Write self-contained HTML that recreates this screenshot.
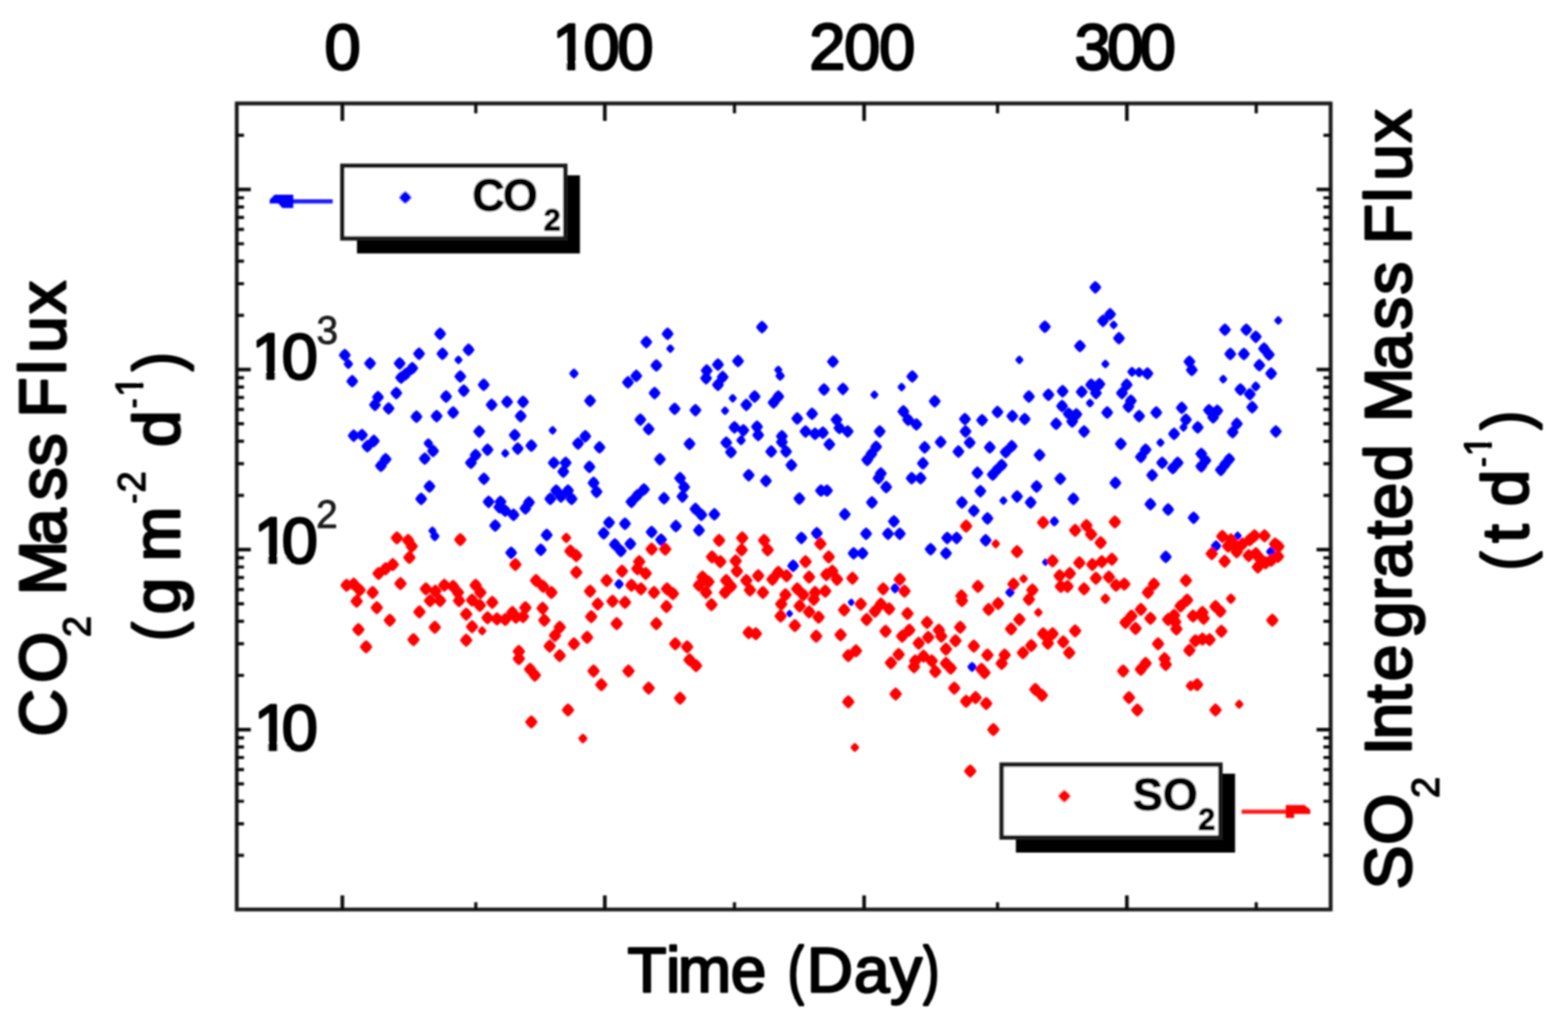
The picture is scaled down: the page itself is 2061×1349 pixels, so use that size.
<!DOCTYPE html>
<html lang="en"><head><meta charset="utf-8"><title>CO2 mass flux and SO2 integrated mass flux versus time</title>
<style>html,body{margin:0;padding:0;background:#fff}body{width:2061px;height:1349px;overflow:hidden}svg{display:block}</style>
</head><body>
<svg width="2061" height="1349" viewBox="0 0 2061 1349" font-family="'Liberation Sans', Arial, Helvetica, sans-serif">
<defs><filter id="soft" x="0" y="0" width="2061" height="1349" filterUnits="userSpaceOnUse"><feGaussianBlur stdDeviation="1.3"/></filter></defs>
<rect x="0" y="0" width="2061" height="1349" fill="#fff"/>
<g filter="url(#soft)">
<path d="M453.2 458.3l4.5 3.8l3.5 4.8l-3.5 4.8l-4.5 3.8l-4.5 -3.8l-3.5 -4.8l3.5 -4.8zM457.9 471.7l3.6 3l2.8 3.9l-2.8 3.9l-3.6 3l-3.6 -3l-2.8 -3.9l2.8 -3.9zM486.4 469.2l4.5 3.8l3.5 4.8l-3.5 4.8l-4.5 3.8l-4.5 -3.8l-3.5 -4.8l3.5 -4.8zM463.0 492.6l4.5 3.8l3.5 4.8l-3.5 4.8l-4.5 3.8l-4.5 -3.8l-3.5 -4.8l3.5 -4.8zM550.8 456.5l4.5 3.8l3.5 4.8l-3.5 4.8l-4.5 3.8l-4.5 -3.8l-3.5 -4.8l3.5 -4.8zM578.5 430.3l4.5 3.8l3.5 4.8l-3.5 4.8l-4.5 3.8l-4.5 -3.8l-3.5 -4.8l3.5 -4.8zM581.6 456.5l4.5 3.8l3.5 4.8l-3.5 4.8l-4.5 3.8l-4.5 -3.8l-3.5 -4.8l3.5 -4.8zM615.9 451.3l4.5 3.8l3.5 4.8l-3.5 4.8l-4.5 3.8l-4.5 -3.8l-3.5 -4.8l3.5 -4.8zM602.6 467.2l3.1 2.6l2.5 3.4l-2.5 3.4l-3.1 2.6l-3.1 -2.6l-2.5 -3.4l2.5 -3.4zM525.3 469.2l4.5 3.8l3.5 4.8l-3.5 4.8l-4.5 3.8l-4.5 -3.8l-3.5 -4.8l3.5 -4.8zM541.9 475.5l4.5 3.8l3.5 4.8l-3.5 4.8l-4.5 3.8l-4.5 -3.8l-3.5 -4.8l3.5 -4.8zM533.4 483.2l4.5 3.8l3.5 4.8l-3.5 4.8l-4.5 3.8l-4.5 -3.8l-3.5 -4.8l3.5 -4.8zM527.2 487.9l4.5 3.8l3.5 4.8l-3.5 4.8l-4.5 3.8l-4.5 -3.8l-3.5 -4.8l3.5 -4.8zM605.0 486.4l4.5 3.8l3.5 4.8l-3.5 4.8l-4.5 3.8l-4.5 -3.8l-3.5 -4.8l3.5 -4.8zM609.6 505.0l4.5 3.8l3.5 4.8l-3.5 4.8l-4.5 3.8l-4.5 -3.8l-3.5 -4.8l3.5 -4.8zM635.8 497.3l4.5 3.8l3.5 4.8l-3.5 4.8l-4.5 3.8l-4.5 -3.8l-3.5 -4.8l3.5 -4.8zM520.9 508.2l4.5 3.8l3.5 4.8l-3.5 4.8l-4.5 3.8l-4.5 -3.8l-3.5 -4.8l3.5 -4.8zM496.8 513.6l4.5 3.8l3.5 4.8l-3.5 4.8l-4.5 3.8l-4.5 -3.8l-3.5 -4.8l3.5 -4.8zM492.9 523.7l4.5 3.8l3.5 4.8l-3.5 4.8l-4.5 3.8l-4.5 -3.8l-3.5 -4.8l3.5 -4.8zM510.8 528.4l4.5 3.8l3.5 4.8l-3.5 4.8l-4.5 3.8l-4.5 -3.8l-3.5 -4.8l3.5 -4.8zM586.3 512.8l4.5 3.8l3.5 4.8l-3.5 4.8l-4.5 3.8l-4.5 -3.8l-3.5 -4.8l3.5 -4.8zM595.6 533.8l4.5 3.8l3.5 4.8l-3.5 4.8l-4.5 3.8l-4.5 -3.8l-3.5 -4.8l3.5 -4.8zM573.9 538.5l4.5 3.8l3.5 4.8l-3.5 4.8l-4.5 3.8l-4.5 -3.8l-3.5 -4.8l3.5 -4.8zM547.4 539.3l4.5 3.8l3.5 4.8l-3.5 4.8l-4.5 3.8l-4.5 -3.8l-3.5 -4.8l3.5 -4.8zM646.2 523.7l4.5 3.8l3.5 4.8l-3.5 4.8l-4.5 3.8l-4.5 -3.8l-3.5 -4.8l3.5 -4.8zM666.5 519.8l4.5 3.8l3.5 4.8l-3.5 4.8l-4.5 3.8l-4.5 -3.8l-3.5 -4.8l3.5 -4.8zM687.5 519.8l4.5 3.8l3.5 4.8l-3.5 4.8l-4.5 3.8l-4.5 -3.8l-3.5 -4.8l3.5 -4.8zM684.4 538.5l4.5 3.8l3.5 4.8l-3.5 4.8l-4.5 3.8l-4.5 -3.8l-3.5 -4.8l3.5 -4.8zM754.4 484.2l3.6 3l2.8 3.9l-2.8 3.9l-3.6 3l-3.6 -3l-2.8 -3.9l2.8 -3.9zM629.9 558.7l4.5 3.8l3.5 4.8l-3.5 4.8l-4.5 3.8l-4.5 -3.8l-3.5 -4.8l3.5 -4.8zM726.4 559.8l3.1 2.6l2.5 3.4l-2.5 3.4l-3.1 2.6l-3.1 -2.6l-2.5 -3.4l2.5 -3.4zM676.6 563.4l4.5 3.8l3.5 4.8l-3.5 4.8l-4.5 3.8l-4.5 -3.8l-3.5 -4.8l3.5 -4.8zM475.8 563.4l4.5 3.8l3.5 4.8l-3.5 4.8l-4.5 3.8l-4.5 -3.8l-3.5 -4.8l3.5 -4.8zM464.9 564.2l4.5 3.8l3.5 4.8l-3.5 4.8l-4.5 3.8l-4.5 -3.8l-3.5 -4.8l3.5 -4.8zM1001.6 421.5l4.5 3.8l3.5 4.8l-3.5 4.8l-4.5 3.8l-4.5 -3.8l-3.5 -4.8l3.5 -4.8zM877.5 430.3l4.5 3.8l3.5 4.8l-3.5 4.8l-4.5 3.8l-4.5 -3.8l-3.5 -4.8l3.5 -4.8zM849.5 441.2l4.5 3.8l3.5 4.8l-3.5 4.8l-4.5 3.8l-4.5 -3.8l-3.5 -4.8l3.5 -4.8zM881.1 452.4l3.1 2.6l2.5 3.4l-2.5 3.4l-3.1 2.6l-3.1 -2.6l-2.5 -3.4l2.5 -3.4zM862.7 471.9l4.5 3.8l3.5 4.8l-3.5 4.8l-4.5 3.8l-4.5 -3.8l-3.5 -4.8l3.5 -4.8zM970.1 466.1l4.5 3.8l3.5 4.8l-3.5 4.8l-4.5 3.8l-4.5 -3.8l-3.5 -4.8l3.5 -4.8zM943.7 470.8l4.5 3.8l3.5 4.8l-3.5 4.8l-4.5 3.8l-4.5 -3.8l-3.5 -4.8l3.5 -4.8zM928.9 478.6l4.5 3.8l3.5 4.8l-3.5 4.8l-4.5 3.8l-4.5 -3.8l-3.5 -4.8l3.5 -4.8zM928.1 488.7l4.5 3.8l3.5 4.8l-3.5 4.8l-4.5 3.8l-4.5 -3.8l-3.5 -4.8l3.5 -4.8zM949.9 487.1l4.5 3.8l3.5 4.8l-3.5 4.8l-4.5 3.8l-4.5 -3.8l-3.5 -4.8l3.5 -4.8zM943.7 497.3l4.5 3.8l3.5 4.8l-3.5 4.8l-4.5 3.8l-4.5 -3.8l-3.5 -4.8l3.5 -4.8zM1023.0 480.4l3.1 2.6l2.5 3.4l-2.5 3.4l-3.1 2.6l-3.1 -2.6l-2.5 -3.4l2.5 -3.4zM1025.4 487.3l3.6 3l2.8 3.9l-2.8 3.9l-3.6 3l-3.6 -3l-2.8 -3.9l2.8 -3.9zM836.3 485.6l4.5 3.8l3.5 4.8l-3.5 4.8l-4.5 3.8l-4.5 -3.8l-3.5 -4.8l3.5 -4.8zM825.4 494.1l4.5 3.8l3.5 4.8l-3.5 4.8l-4.5 3.8l-4.5 -3.8l-3.5 -4.8l3.5 -4.8zM860.4 508.2l4.5 3.8l3.5 4.8l-3.5 4.8l-4.5 3.8l-4.5 -3.8l-3.5 -4.8l3.5 -4.8zM775.6 518.3l4.5 3.8l3.5 4.8l-3.5 4.8l-4.5 3.8l-4.5 -3.8l-3.5 -4.8l3.5 -4.8zM886.8 528.9l4.5 3.8l3.5 4.8l-3.5 4.8l-4.5 3.8l-4.5 -3.8l-3.5 -4.8l3.5 -4.8zM914.1 530.7l4.5 3.8l3.5 4.8l-3.5 4.8l-4.5 3.8l-4.5 -3.8l-3.5 -4.8l3.5 -4.8zM963.1 517.7l3.1 2.6l2.5 3.4l-2.5 3.4l-3.1 2.6l-3.1 -2.6l-2.5 -3.4l2.5 -3.4zM953.0 534.1l3.1 2.6l2.5 3.4l-2.5 3.4l-3.1 2.6l-3.1 -2.6l-2.5 -3.4l2.5 -3.4zM991.9 512.8l4.5 3.8l3.5 4.8l-3.5 4.8l-4.5 3.8l-4.5 -3.8l-3.5 -4.8l3.5 -4.8zM981.0 523.7l4.5 3.8l3.5 4.8l-3.5 4.8l-4.5 3.8l-4.5 -3.8l-3.5 -4.8l3.5 -4.8zM1023.0 512.8l4.5 3.8l3.5 4.8l-3.5 4.8l-4.5 3.8l-4.5 -3.8l-3.5 -4.8l3.5 -4.8zM1016.8 520.6l4.5 3.8l3.5 4.8l-3.5 4.8l-4.5 3.8l-4.5 -3.8l-3.5 -4.8l3.5 -4.8zM1067.4 535.4l4.5 3.8l3.5 4.8l-3.5 4.8l-4.5 3.8l-4.5 -3.8l-3.5 -4.8l3.5 -4.8zM1047.9 541.6l4.5 3.8l3.5 4.8l-3.5 4.8l-4.5 3.8l-4.5 -3.8l-3.5 -4.8l3.5 -4.8zM841.7 543.2l4.5 3.8l3.5 4.8l-3.5 4.8l-4.5 3.8l-4.5 -3.8l-3.5 -4.8l3.5 -4.8zM852.6 555.6l4.5 3.8l3.5 4.8l-3.5 4.8l-4.5 3.8l-4.5 -3.8l-3.5 -4.8l3.5 -4.8zM965.4 553.3l4.5 3.8l3.5 4.8l-3.5 4.8l-4.5 3.8l-4.5 -3.8l-3.5 -4.8l3.5 -4.8zM977.1 557.2l4.5 3.8l3.5 4.8l-3.5 4.8l-4.5 3.8l-4.5 -3.8l-3.5 -4.8l3.5 -4.8zM995.0 552.5l4.5 3.8l3.5 4.8l-3.5 4.8l-4.5 3.8l-4.5 -3.8l-3.5 -4.8l3.5 -4.8zM996.6 563.4l4.5 3.8l3.5 4.8l-3.5 4.8l-4.5 3.8l-4.5 -3.8l-3.5 -4.8l3.5 -4.8zM1058.8 558.7l4.5 3.8l3.5 4.8l-3.5 4.8l-4.5 3.8l-4.5 -3.8l-3.5 -4.8l3.5 -4.8zM1071.3 561.8l4.5 3.8l3.5 4.8l-3.5 4.8l-4.5 3.8l-4.5 -3.8l-3.5 -4.8l3.5 -4.8zM769.3 565.0l4.5 3.8l3.5 4.8l-3.5 4.8l-4.5 3.8l-4.5 -3.8l-3.5 -4.8l3.5 -4.8zM1027.7 565.0l4.5 3.8l3.5 4.8l-3.5 4.8l-4.5 3.8l-4.5 -3.8l-3.5 -4.8l3.5 -4.8zM1373.4 421.0l4.5 3.8l3.5 4.8l-3.5 4.8l-4.5 3.8l-4.5 -3.8l-3.5 -4.8l3.5 -4.8zM1094.8 466.9l4.5 3.8l3.5 4.8l-3.5 4.8l-4.5 3.8l-4.5 -3.8l-3.5 -4.8l3.5 -4.8zM1339.9 467.2l3.1 2.6l2.5 3.4l-2.5 3.4l-3.1 2.6l-3.1 -2.6l-2.5 -3.4l2.5 -3.4zM1199.1 486.4l4.5 3.8l3.5 4.8l-3.5 4.8l-4.5 3.8l-4.5 -3.8l-3.5 -4.8l3.5 -4.8zM1185.1 502.9l3.1 2.6l2.5 3.4l-2.5 3.4l-3.1 2.6l-3.1 -2.6l-2.5 -3.4l2.5 -3.4zM1083.1 503.5l4.5 3.8l3.5 4.8l-3.5 4.8l-4.5 3.8l-4.5 -3.8l-3.5 -4.8l3.5 -4.8zM1108.0 502.7l4.5 3.8l3.5 4.8l-3.5 4.8l-4.5 3.8l-4.5 -3.8l-3.5 -4.8l3.5 -4.8zM1149.3 513.1l3.1 2.6l2.5 3.4l-2.5 3.4l-3.1 2.6l-3.1 -2.6l-2.5 -3.4l2.5 -3.4zM1228.6 519.0l4.5 3.8l3.5 4.8l-3.5 4.8l-4.5 3.8l-4.5 -3.8l-3.5 -4.8l3.5 -4.8zM1352.4 512.8l4.5 3.8l3.5 4.8l-3.5 4.8l-4.5 3.8l-4.5 -3.8l-3.5 -4.8l3.5 -4.8zM1378.1 510.5l4.5 3.8l3.5 4.8l-3.5 4.8l-4.5 3.8l-4.5 -3.8l-3.5 -4.8l3.5 -4.8zM1396.7 505.8l4.5 3.8l3.5 4.8l-3.5 4.8l-4.5 3.8l-4.5 -3.8l-3.5 -4.8l3.5 -4.8zM1396.0 525.3l4.5 3.8l3.5 4.8l-3.5 4.8l-4.5 3.8l-4.5 -3.8l-3.5 -4.8l3.5 -4.8zM1311.1 533.1l4.5 3.8l3.5 4.8l-3.5 4.8l-4.5 3.8l-4.5 -3.8l-3.5 -4.8l3.5 -4.8zM1187.4 532.3l4.5 3.8l3.5 4.8l-3.5 4.8l-4.5 3.8l-4.5 -3.8l-3.5 -4.8l3.5 -4.8zM1193.6 543.2l4.5 3.8l3.5 4.8l-3.5 4.8l-4.5 3.8l-4.5 -3.8l-3.5 -4.8l3.5 -4.8zM1204.5 549.4l4.5 3.8l3.5 4.8l-3.5 4.8l-4.5 3.8l-4.5 -3.8l-3.5 -4.8l3.5 -4.8zM1268.3 542.4l4.5 3.8l3.5 4.8l-3.5 4.8l-4.5 3.8l-4.5 -3.8l-3.5 -4.8l3.5 -4.8zM1269.1 558.7l4.5 3.8l3.5 4.8l-3.5 4.8l-4.5 3.8l-4.5 -3.8l-3.5 -4.8l3.5 -4.8zM1290.9 543.9l4.5 3.8l3.5 4.8l-3.5 4.8l-4.5 3.8l-4.5 -3.8l-3.5 -4.8l3.5 -4.8zM1330.6 538.5l4.5 3.8l3.5 4.8l-3.5 4.8l-4.5 3.8l-4.5 -3.8l-3.5 -4.8l3.5 -4.8zM1346.9 542.4l4.5 3.8l3.5 4.8l-3.5 4.8l-4.5 3.8l-4.5 -3.8l-3.5 -4.8l3.5 -4.8zM1099.5 543.2l4.5 3.8l3.5 4.8l-3.5 4.8l-4.5 3.8l-4.5 -3.8l-3.5 -4.8l3.5 -4.8zM1103.3 554.1l4.5 3.8l3.5 4.8l-3.5 4.8l-4.5 3.8l-4.5 -3.8l-3.5 -4.8l3.5 -4.8zM1114.2 558.7l4.5 3.8l3.5 4.8l-3.5 4.8l-4.5 3.8l-4.5 -3.8l-3.5 -4.8l3.5 -4.8zM1156.3 558.7l4.5 3.8l3.5 4.8l-3.5 4.8l-4.5 3.8l-4.5 -3.8l-3.5 -4.8l3.5 -4.8zM1388.2 548.6l4.5 3.8l3.5 4.8l-3.5 4.8l-4.5 3.8l-4.5 -3.8l-3.5 -4.8l3.5 -4.8zM1081.6 560.3l4.5 3.8l3.5 4.8l-3.5 4.8l-4.5 3.8l-4.5 -3.8l-3.5 -4.8l3.5 -4.8zM1439.7 369.2l4.5 3.8l3.5 4.8l-3.5 4.8l-4.5 3.8l-4.5 -3.8l-3.5 -4.8l3.5 -4.8zM1459.1 404.6l4.5 3.8l3.5 4.8l-3.5 4.8l-4.5 3.8l-4.5 -3.8l-3.5 -4.8l3.5 -4.8zM1449.8 413.2l4.5 3.8l3.5 4.8l-3.5 4.8l-4.5 3.8l-4.5 -3.8l-3.5 -4.8l3.5 -4.8zM1463.8 421.2l3.1 2.6l2.5 3.4l-2.5 3.4l-3.1 2.6l-3.1 -2.6l-2.5 -3.4l2.5 -3.4zM1470.8 436.1l4.5 3.8l3.5 4.8l-3.5 4.8l-4.5 3.8l-4.5 -3.8l-3.5 -4.8l3.5 -4.8zM1419.5 446.4l4.5 3.8l3.5 4.8l-3.5 4.8l-4.5 3.8l-4.5 -3.8l-3.5 -4.8l3.5 -4.8zM1452.9 472.6l3.1 2.6l2.5 3.4l-2.5 3.4l-3.1 2.6l-3.1 -2.6l-2.5 -3.4l2.5 -3.4zM1680.2 415.3l3.1 2.6l2.5 3.4l-2.5 3.4l-3.1 2.6l-3.1 -2.6l-2.5 -3.4l2.5 -3.4zM1610.1 424.9l4.5 3.8l3.5 4.8l-3.5 4.8l-4.5 3.8l-4.5 -3.8l-3.5 -4.8l3.5 -4.8zM1638.1 424.9l4.5 3.8l3.5 4.8l-3.5 4.8l-4.5 3.8l-4.5 -3.8l-3.5 -4.8l3.5 -4.8zM1650.6 434.2l4.5 3.8l3.5 4.8l-3.5 4.8l-4.5 3.8l-4.5 -3.8l-3.5 -4.8l3.5 -4.8zM1661.5 449.8l4.5 3.8l3.5 4.8l-3.5 4.8l-4.5 3.8l-4.5 -3.8l-3.5 -4.8l3.5 -4.8zM1667.7 457.6l4.5 3.8l3.5 4.8l-3.5 4.8l-4.5 3.8l-4.5 -3.8l-3.5 -4.8l3.5 -4.8zM1617.1 456.8l4.5 3.8l3.5 4.8l-3.5 4.8l-4.5 3.8l-4.5 -3.8l-3.5 -4.8l3.5 -4.8zM1635.0 456.8l4.5 3.8l3.5 4.8l-3.5 4.8l-4.5 3.8l-4.5 -3.8l-3.5 -4.8l3.5 -4.8zM1563.4 466.9l4.5 3.8l3.5 4.8l-3.5 4.8l-4.5 3.8l-4.5 -3.8l-3.5 -4.8l3.5 -4.8zM1566.5 477.8l4.5 3.8l3.5 4.8l-3.5 4.8l-4.5 3.8l-4.5 -3.8l-3.5 -4.8l3.5 -4.8zM1655.3 471.6l4.5 3.8l3.5 4.8l-3.5 4.8l-4.5 3.8l-4.5 -3.8l-3.5 -4.8l3.5 -4.8zM1670.8 482.5l4.5 3.8l3.5 4.8l-3.5 4.8l-4.5 3.8l-4.5 -3.8l-3.5 -4.8l3.5 -4.8zM1607.8 492.5l3.1 2.6l2.5 3.4l-2.5 3.4l-3.1 2.6l-3.1 -2.6l-2.5 -3.4l2.5 -3.4zM1487.9 481.9l3.6 3l2.8 3.9l-2.8 3.9l-3.6 3l-3.6 -3l-2.8 -3.9l2.8 -3.9zM1497.3 482.6l3.6 3l2.8 3.9l-2.8 3.9l-3.6 3l-3.6 -3l-2.8 -3.9l2.8 -3.9zM1508.2 482.5l4.5 3.8l3.5 4.8l-3.5 4.8l-4.5 3.8l-4.5 -3.8l-3.5 -4.8l3.5 -4.8zM1480.9 497.3l4.5 3.8l3.5 4.8l-3.5 4.8l-4.5 3.8l-4.5 -3.8l-3.5 -4.8l3.5 -4.8zM1474.7 508.2l4.5 3.8l3.5 4.8l-3.5 4.8l-4.5 3.8l-4.5 -3.8l-3.5 -4.8l3.5 -4.8zM1486.4 518.3l4.5 3.8l3.5 4.8l-3.5 4.8l-4.5 3.8l-4.5 -3.8l-3.5 -4.8l3.5 -4.8zM1483.3 526.0l4.5 3.8l3.5 4.8l-3.5 4.8l-4.5 3.8l-4.5 -3.8l-3.5 -4.8l3.5 -4.8zM1434.2 497.3l4.5 3.8l3.5 4.8l-3.5 4.8l-4.5 3.8l-4.5 -3.8l-3.5 -4.8l3.5 -4.8zM1445.1 496.5l4.5 3.8l3.5 4.8l-3.5 4.8l-4.5 3.8l-4.5 -3.8l-3.5 -4.8l3.5 -4.8zM1440.5 508.2l4.5 3.8l3.5 4.8l-3.5 4.8l-4.5 3.8l-4.5 -3.8l-3.5 -4.8l3.5 -4.8zM1421.8 506.6l4.5 3.8l3.5 4.8l-3.5 4.8l-4.5 3.8l-4.5 -3.8l-3.5 -4.8l3.5 -4.8zM1432.7 524.0l3.1 2.6l2.5 3.4l-2.5 3.4l-3.1 2.6l-3.1 -2.6l-2.5 -3.4l2.5 -3.4zM1455.3 533.8l4.5 3.8l3.5 4.8l-3.5 4.8l-4.5 3.8l-4.5 -3.8l-3.5 -4.8l3.5 -4.8zM1497.3 538.5l4.5 3.8l3.5 4.8l-3.5 4.8l-4.5 3.8l-4.5 -3.8l-3.5 -4.8l3.5 -4.8zM1519.8 533.8l4.5 3.8l3.5 4.8l-3.5 4.8l-4.5 3.8l-4.5 -3.8l-3.5 -4.8l3.5 -4.8zM1553.3 527.6l4.5 3.8l3.5 4.8l-3.5 4.8l-4.5 3.8l-4.5 -3.8l-3.5 -4.8l3.5 -4.8zM1558.8 543.2l4.5 3.8l3.5 4.8l-3.5 4.8l-4.5 3.8l-4.5 -3.8l-3.5 -4.8l3.5 -4.8zM1574.3 553.3l4.5 3.8l3.5 4.8l-3.5 4.8l-4.5 3.8l-4.5 -3.8l-3.5 -4.8l3.5 -4.8zM1555.6 555.9l3.1 2.6l2.5 3.4l-2.5 3.4l-3.1 2.6l-3.1 -2.6l-2.5 -3.4l2.5 -3.4zM1589.1 530.7l4.5 3.8l3.5 4.8l-3.5 4.8l-4.5 3.8l-4.5 -3.8l-3.5 -4.8l3.5 -4.8zM1600.0 531.5l4.5 3.8l3.5 4.8l-3.5 4.8l-4.5 3.8l-4.5 -3.8l-3.5 -4.8l3.5 -4.8zM1594.6 540.1l4.5 3.8l3.5 4.8l-3.5 4.8l-4.5 3.8l-4.5 -3.8l-3.5 -4.8l3.5 -4.8zM1630.4 503.5l4.5 3.8l3.5 4.8l-3.5 4.8l-4.5 3.8l-4.5 -3.8l-3.5 -4.8l3.5 -4.8zM1650.6 501.3l3.6 3l2.8 3.9l-2.8 3.9l-3.6 3l-3.6 -3l-2.8 -3.9l2.8 -3.9zM1642.8 509.7l4.5 3.8l3.5 4.8l-3.5 4.8l-4.5 3.8l-4.5 -3.8l-3.5 -4.8l3.5 -4.8zM1645.9 526.8l4.5 3.8l3.5 4.8l-3.5 4.8l-4.5 3.8l-4.5 -3.8l-3.5 -4.8l3.5 -4.8zM1625.7 548.6l4.5 3.8l3.5 4.8l-3.5 4.8l-4.5 3.8l-4.5 -3.8l-3.5 -4.8l3.5 -4.8zM1620.2 559.5l4.5 3.8l3.5 4.8l-3.5 4.8l-4.5 3.8l-4.5 -3.8l-3.5 -4.8l3.5 -4.8zM1677.0 558.7l4.5 3.8l3.5 4.8l-3.5 4.8l-4.5 3.8l-4.5 -3.8l-3.5 -4.8l3.5 -4.8zM1404.7 535.4l4.5 3.8l3.5 4.8l-3.5 4.8l-4.5 3.8l-4.5 -3.8l-3.5 -4.8l3.5 -4.8zM1414.8 536.2l4.5 3.8l3.5 4.8l-3.5 4.8l-4.5 3.8l-4.5 -3.8l-3.5 -4.8l3.5 -4.8zM1409.3 545.5l4.5 3.8l3.5 4.8l-3.5 4.8l-4.5 3.8l-4.5 -3.8l-3.5 -4.8l3.5 -4.8zM1424.9 558.7l4.5 3.8l3.5 4.8l-3.5 4.8l-4.5 3.8l-4.5 -3.8l-3.5 -4.8l3.5 -4.8zM1543.2 561.8l4.5 3.8l3.5 4.8l-3.5 4.8l-4.5 3.8l-4.5 -3.8l-3.5 -4.8l3.5 -4.8zM491.4 571.1l4.5 3.8l3.5 4.8l-3.5 4.8l-4.5 3.8l-4.5 -3.8l-3.5 -4.8l3.5 -4.8zM482.8 578.1l4.5 3.8l3.5 4.8l-3.5 4.8l-4.5 3.8l-4.5 -3.8l-3.5 -4.8l3.5 -4.8zM563.0 575.9l3.6 3l2.8 3.9l-2.8 3.9l-3.6 3l-3.6 -3l-2.8 -3.9l2.8 -3.9zM569.2 584.3l4.5 3.8l3.5 4.8l-3.5 4.8l-4.5 3.8l-4.5 -3.8l-3.5 -4.8l3.5 -4.8zM558.3 594.4l4.5 3.8l3.5 4.8l-3.5 4.8l-4.5 3.8l-4.5 -3.8l-3.5 -4.8l3.5 -4.8zM506.9 595.2l4.5 3.8l3.5 4.8l-3.5 4.8l-4.5 3.8l-4.5 -3.8l-3.5 -4.8l3.5 -4.8zM500.7 603.8l4.5 3.8l3.5 4.8l-3.5 4.8l-4.5 3.8l-4.5 -3.8l-3.5 -4.8l3.5 -4.8zM640.8 582.7l4.5 3.8l3.5 4.8l-3.5 4.8l-4.5 3.8l-4.5 -3.8l-3.5 -4.8l3.5 -4.8zM625.2 589.7l4.5 3.8l3.5 4.8l-3.5 4.8l-4.5 3.8l-4.5 -3.8l-3.5 -4.8l3.5 -4.8zM619.0 599.9l4.5 3.8l3.5 4.8l-3.5 4.8l-4.5 3.8l-4.5 -3.8l-3.5 -4.8l3.5 -4.8zM664.1 590.0l3.1 2.6l2.5 3.4l-2.5 3.4l-3.1 2.6l-3.1 -2.6l-2.5 -3.4l2.5 -3.4zM680.5 581.2l4.5 3.8l3.5 4.8l-3.5 4.8l-4.5 3.8l-4.5 -3.8l-3.5 -4.8l3.5 -4.8zM698.4 577.3l4.5 3.8l3.5 4.8l-3.5 4.8l-4.5 3.8l-4.5 -3.8l-3.5 -4.8l3.5 -4.8zM759.8 574.5l4.5 3.8l3.5 4.8l-3.5 4.8l-4.5 3.8l-4.5 -3.8l-3.5 -4.8l3.5 -4.8zM727.9 599.9l4.5 3.8l3.5 4.8l-3.5 4.8l-4.5 3.8l-4.5 -3.8l-3.5 -4.8l3.5 -4.8zM743.5 599.9l4.5 3.8l3.5 4.8l-3.5 4.8l-4.5 3.8l-4.5 -3.8l-3.5 -4.8l3.5 -4.8zM740.4 611.5l4.5 3.8l3.5 4.8l-3.5 4.8l-4.5 3.8l-4.5 -3.8l-3.5 -4.8l3.5 -4.8zM636.1 620.9l4.5 3.8l3.5 4.8l-3.5 4.8l-4.5 3.8l-4.5 -3.8l-3.5 -4.8l3.5 -4.8zM564.5 631.0l4.5 3.8l3.5 4.8l-3.5 4.8l-4.5 3.8l-4.5 -3.8l-3.5 -4.8l3.5 -4.8zM553.6 647.3l4.5 3.8l3.5 4.8l-3.5 4.8l-4.5 3.8l-4.5 -3.8l-3.5 -4.8l3.5 -4.8zM731.1 636.4l4.5 3.8l3.5 4.8l-3.5 4.8l-4.5 3.8l-4.5 -3.8l-3.5 -4.8l3.5 -4.8zM746.6 636.4l4.5 3.8l3.5 4.8l-3.5 4.8l-4.5 3.8l-4.5 -3.8l-3.5 -4.8l3.5 -4.8zM723.3 647.3l4.5 3.8l3.5 4.8l-3.5 4.8l-4.5 3.8l-4.5 -3.8l-3.5 -4.8l3.5 -4.8zM751.3 647.3l4.5 3.8l3.5 4.8l-3.5 4.8l-4.5 3.8l-4.5 -3.8l-3.5 -4.8l3.5 -4.8zM737.3 644.2l4.5 3.8l3.5 4.8l-3.5 4.8l-4.5 3.8l-4.5 -3.8l-3.5 -4.8l3.5 -4.8zM642.3 651.2l4.5 3.8l3.5 4.8l-3.5 4.8l-4.5 3.8l-4.5 -3.8l-3.5 -4.8l3.5 -4.8zM657.9 651.2l4.5 3.8l3.5 4.8l-3.5 4.8l-4.5 3.8l-4.5 -3.8l-3.5 -4.8l3.5 -4.8zM656.3 658.2l4.5 3.8l3.5 4.8l-3.5 4.8l-4.5 3.8l-4.5 -3.8l-3.5 -4.8l3.5 -4.8zM664.1 662.9l4.5 3.8l3.5 4.8l-3.5 4.8l-4.5 3.8l-4.5 -3.8l-3.5 -4.8l3.5 -4.8zM675.0 668.3l4.5 3.8l3.5 4.8l-3.5 4.8l-4.5 3.8l-4.5 -3.8l-3.5 -4.8l3.5 -4.8zM695.3 652.0l4.5 3.8l3.5 4.8l-3.5 4.8l-4.5 3.8l-4.5 -3.8l-3.5 -4.8l3.5 -4.8zM690.6 659.8l4.5 3.8l3.5 4.8l-3.5 4.8l-4.5 3.8l-4.5 -3.8l-3.5 -4.8l3.5 -4.8zM650.9 682.4l4.5 3.8l3.5 4.8l-3.5 4.8l-4.5 3.8l-4.5 -3.8l-3.5 -4.8l3.5 -4.8zM568.4 691.9l3.1 2.6l2.5 3.4l-2.5 3.4l-3.1 2.6l-3.1 -2.6l-2.5 -3.4l2.5 -3.4zM571.5 698.1l3.6 3l2.8 3.9l-2.8 3.9l-3.6 3l-3.6 -3l-2.8 -3.9l2.8 -3.9zM718.6 694.8l4.5 3.8l3.5 4.8l-3.5 4.8l-4.5 3.8l-4.5 -3.8l-3.5 -4.8l3.5 -4.8zM710.8 714.3l4.5 3.8l3.5 4.8l-3.5 4.8l-4.5 3.8l-4.5 -3.8l-3.5 -4.8l3.5 -4.8zM671.9 718.2l4.5 3.8l3.5 4.8l-3.5 4.8l-4.5 3.8l-4.5 -3.8l-3.5 -4.8l3.5 -4.8zM788.0 579.6l4.5 3.8l3.5 4.8l-3.5 4.8l-4.5 3.8l-4.5 -3.8l-3.5 -4.8l3.5 -4.8zM906.3 575.0l4.5 3.8l3.5 4.8l-3.5 4.8l-4.5 3.8l-4.5 -3.8l-3.5 -4.8l3.5 -4.8zM954.6 573.4l4.5 3.8l3.5 4.8l-3.5 4.8l-4.5 3.8l-4.5 -3.8l-3.5 -4.8l3.5 -4.8zM960.8 585.9l4.5 3.8l3.5 4.8l-3.5 4.8l-4.5 3.8l-4.5 -3.8l-3.5 -4.8l3.5 -4.8zM974.0 572.0l3.6 3l2.8 3.9l-2.8 3.9l-3.6 3l-3.6 -3l-2.8 -3.9l2.8 -3.9zM1027.7 572.6l4.5 3.8l3.5 4.8l-3.5 4.8l-4.5 3.8l-4.5 -3.8l-3.5 -4.8l3.5 -4.8zM1013.7 585.1l4.5 3.8l3.5 4.8l-3.5 4.8l-4.5 3.8l-4.5 -3.8l-3.5 -4.8l3.5 -4.8zM1033.2 585.1l4.5 3.8l3.5 4.8l-3.5 4.8l-4.5 3.8l-4.5 -3.8l-3.5 -4.8l3.5 -4.8zM1040.2 603.0l4.5 3.8l3.5 4.8l-3.5 4.8l-4.5 3.8l-4.5 -3.8l-3.5 -4.8l3.5 -4.8zM867.4 595.2l4.5 3.8l3.5 4.8l-3.5 4.8l-4.5 3.8l-4.5 -3.8l-3.5 -4.8l3.5 -4.8zM774.8 605.3l4.5 3.8l3.5 4.8l-3.5 4.8l-4.5 3.8l-4.5 -3.8l-3.5 -4.8l3.5 -4.8zM780.2 626.3l4.5 3.8l3.5 4.8l-3.5 4.8l-4.5 3.8l-4.5 -3.8l-3.5 -4.8l3.5 -4.8zM784.1 638.0l4.5 3.8l3.5 4.8l-3.5 4.8l-4.5 3.8l-4.5 -3.8l-3.5 -4.8l3.5 -4.8zM893.9 620.1l4.5 3.8l3.5 4.8l-3.5 4.8l-4.5 3.8l-4.5 -3.8l-3.5 -4.8l3.5 -4.8zM899.3 631.8l4.5 3.8l3.5 4.8l-3.5 4.8l-4.5 3.8l-4.5 -3.8l-3.5 -4.8l3.5 -4.8zM897.0 644.2l4.5 3.8l3.5 4.8l-3.5 4.8l-4.5 3.8l-4.5 -3.8l-3.5 -4.8l3.5 -4.8zM984.1 616.2l4.5 3.8l3.5 4.8l-3.5 4.8l-4.5 3.8l-4.5 -3.8l-3.5 -4.8l3.5 -4.8zM1006.7 623.7l4.5 3.8l3.5 4.8l-3.5 4.8l-4.5 3.8l-4.5 -3.8l-3.5 -4.8l3.5 -4.8zM846.4 634.9l4.5 3.8l3.5 4.8l-3.5 4.8l-4.5 3.8l-4.5 -3.8l-3.5 -4.8l3.5 -4.8zM837.8 642.7l4.5 3.8l3.5 4.8l-3.5 4.8l-4.5 3.8l-4.5 -3.8l-3.5 -4.8l3.5 -4.8zM830.0 651.2l4.5 3.8l3.5 4.8l-3.5 4.8l-4.5 3.8l-4.5 -3.8l-3.5 -4.8l3.5 -4.8zM872.8 646.6l4.5 3.8l3.5 4.8l-3.5 4.8l-4.5 3.8l-4.5 -3.8l-3.5 -4.8l3.5 -4.8zM1050.7 647.0l4.5 3.8l3.5 4.8l-3.5 4.8l-4.5 3.8l-4.5 -3.8l-3.5 -4.8l3.5 -4.8zM1079.1 636.4l4.5 3.8l3.5 4.8l-3.5 4.8l-4.5 3.8l-4.5 -3.8l-3.5 -4.8l3.5 -4.8zM914.1 660.6l4.5 3.8l3.5 4.8l-3.5 4.8l-4.5 3.8l-4.5 -3.8l-3.5 -4.8l3.5 -4.8zM921.9 668.3l4.5 3.8l3.5 4.8l-3.5 4.8l-4.5 3.8l-4.5 -3.8l-3.5 -4.8l3.5 -4.8zM939.0 667.6l4.5 3.8l3.5 4.8l-3.5 4.8l-4.5 3.8l-4.5 -3.8l-3.5 -4.8l3.5 -4.8zM800.5 678.5l4.5 3.8l3.5 4.8l-3.5 4.8l-4.5 3.8l-4.5 -3.8l-3.5 -4.8l3.5 -4.8zM793.5 692.5l4.5 3.8l3.5 4.8l-3.5 4.8l-4.5 3.8l-4.5 -3.8l-3.5 -4.8l3.5 -4.8zM821.5 680.0l4.5 3.8l3.5 4.8l-3.5 4.8l-4.5 3.8l-4.5 -3.8l-3.5 -4.8l3.5 -4.8zM888.4 683.1l4.5 3.8l3.5 4.8l-3.5 4.8l-4.5 3.8l-4.5 -3.8l-3.5 -4.8l3.5 -4.8zM918.8 688.6l4.5 3.8l3.5 4.8l-3.5 4.8l-4.5 3.8l-4.5 -3.8l-3.5 -4.8l3.5 -4.8zM856.5 690.9l4.5 3.8l3.5 4.8l-3.5 4.8l-4.5 3.8l-4.5 -3.8l-3.5 -4.8l3.5 -4.8zM868.9 701.0l4.5 3.8l3.5 4.8l-3.5 4.8l-4.5 3.8l-4.5 -3.8l-3.5 -4.8l3.5 -4.8zM808.2 707.3l4.5 3.8l3.5 4.8l-3.5 4.8l-4.5 3.8l-4.5 -3.8l-3.5 -4.8l3.5 -4.8zM828.5 706.5l4.5 3.8l3.5 4.8l-3.5 4.8l-4.5 3.8l-4.5 -3.8l-3.5 -4.8l3.5 -4.8zM816.0 715.8l4.5 3.8l3.5 4.8l-3.5 4.8l-4.5 3.8l-4.5 -3.8l-3.5 -4.8l3.5 -4.8zM1053.4 698.7l4.5 3.8l3.5 4.8l-3.5 4.8l-4.5 3.8l-4.5 -3.8l-3.5 -4.8l3.5 -4.8zM1073.6 692.5l4.5 3.8l3.5 4.8l-3.5 4.8l-4.5 3.8l-4.5 -3.8l-3.5 -4.8l3.5 -4.8zM1042.5 735.3l4.5 3.8l3.5 4.8l-3.5 4.8l-4.5 3.8l-4.5 -3.8l-3.5 -4.8l3.5 -4.8zM813.7 761.1l3.6 3l2.8 3.9l-2.8 3.9l-3.6 3l-3.6 -3l-2.8 -3.9l2.8 -3.9zM1090.1 575.7l4.5 3.8l3.5 4.8l-3.5 4.8l-4.5 3.8l-4.5 -3.8l-3.5 -4.8l3.5 -4.8zM1151.6 578.9l4.5 3.8l3.5 4.8l-3.5 4.8l-4.5 3.8l-4.5 -3.8l-3.5 -4.8l3.5 -4.8zM1145.4 588.2l4.5 3.8l3.5 4.8l-3.5 4.8l-4.5 3.8l-4.5 -3.8l-3.5 -4.8l3.5 -4.8zM1139.9 596.0l4.5 3.8l3.5 4.8l-3.5 4.8l-4.5 3.8l-4.5 -3.8l-3.5 -4.8l3.5 -4.8zM1215.4 579.6l4.5 3.8l3.5 4.8l-3.5 4.8l-4.5 3.8l-4.5 -3.8l-3.5 -4.8l3.5 -4.8zM1236.4 572.6l4.5 3.8l3.5 4.8l-3.5 4.8l-4.5 3.8l-4.5 -3.8l-3.5 -4.8l3.5 -4.8zM1274.6 573.4l4.5 3.8l3.5 4.8l-3.5 4.8l-4.5 3.8l-4.5 -3.8l-3.5 -4.8l3.5 -4.8zM1259.8 585.1l4.5 3.8l3.5 4.8l-3.5 4.8l-4.5 3.8l-4.5 -3.8l-3.5 -4.8l3.5 -4.8zM1301.0 579.6l4.5 3.8l3.5 4.8l-3.5 4.8l-4.5 3.8l-4.5 -3.8l-3.5 -4.8l3.5 -4.8zM1322.0 585.9l4.5 3.8l3.5 4.8l-3.5 4.8l-4.5 3.8l-4.5 -3.8l-3.5 -4.8l3.5 -4.8zM1329.8 578.1l4.5 3.8l3.5 4.8l-3.5 4.8l-4.5 3.8l-4.5 -3.8l-3.5 -4.8l3.5 -4.8zM1366.4 589.7l4.5 3.8l3.5 4.8l-3.5 4.8l-4.5 3.8l-4.5 -3.8l-3.5 -4.8l3.5 -4.8zM1213.1 600.6l4.5 3.8l3.5 4.8l-3.5 4.8l-4.5 3.8l-4.5 -3.8l-3.5 -4.8l3.5 -4.8zM1157.8 613.9l4.5 3.8l3.5 4.8l-3.5 4.8l-4.5 3.8l-4.5 -3.8l-3.5 -4.8l3.5 -4.8zM1154.7 620.1l4.5 3.8l3.5 4.8l-3.5 4.8l-4.5 3.8l-4.5 -3.8l-3.5 -4.8l3.5 -4.8zM1164.8 631.8l4.5 3.8l3.5 4.8l-3.5 4.8l-4.5 3.8l-4.5 -3.8l-3.5 -4.8l3.5 -4.8zM1198.3 620.1l4.5 3.8l3.5 4.8l-3.5 4.8l-4.5 3.8l-4.5 -3.8l-3.5 -4.8l3.5 -4.8zM1210.0 620.1l4.5 3.8l3.5 4.8l-3.5 4.8l-4.5 3.8l-4.5 -3.8l-3.5 -4.8l3.5 -4.8zM1284.7 613.1l4.5 3.8l3.5 4.8l-3.5 4.8l-4.5 3.8l-4.5 -3.8l-3.5 -4.8l3.5 -4.8zM1316.6 603.0l4.5 3.8l3.5 4.8l-3.5 4.8l-4.5 3.8l-4.5 -3.8l-3.5 -4.8l3.5 -4.8zM1310.4 609.2l4.5 3.8l3.5 4.8l-3.5 4.8l-4.5 3.8l-4.5 -3.8l-3.5 -4.8l3.5 -4.8zM1304.9 615.4l4.5 3.8l3.5 4.8l-3.5 4.8l-4.5 3.8l-4.5 -3.8l-3.5 -4.8l3.5 -4.8zM1393.6 620.9l4.5 3.8l3.5 4.8l-3.5 4.8l-4.5 3.8l-4.5 -3.8l-3.5 -4.8l3.5 -4.8zM1087.0 636.4l4.5 3.8l3.5 4.8l-3.5 4.8l-4.5 3.8l-4.5 -3.8l-3.5 -4.8l3.5 -4.8zM1288.6 637.2l4.5 3.8l3.5 4.8l-3.5 4.8l-4.5 3.8l-4.5 -3.8l-3.5 -4.8l3.5 -4.8zM1362.5 631.0l4.5 3.8l3.5 4.8l-3.5 4.8l-4.5 3.8l-4.5 -3.8l-3.5 -4.8l3.5 -4.8zM1146.1 652.0l4.5 3.8l3.5 4.8l-3.5 4.8l-4.5 3.8l-4.5 -3.8l-3.5 -4.8l3.5 -4.8zM1264.4 652.0l4.5 3.8l3.5 4.8l-3.5 4.8l-4.5 3.8l-4.5 -3.8l-3.5 -4.8l3.5 -4.8zM1318.9 652.2l3.1 2.6l2.5 3.4l-2.5 3.4l-3.1 2.6l-3.1 -2.6l-2.5 -3.4l2.5 -3.4zM1336.8 644.2l4.5 3.8l3.5 4.8l-3.5 4.8l-4.5 3.8l-4.5 -3.8l-3.5 -4.8l3.5 -4.8zM1354.7 652.0l4.5 3.8l3.5 4.8l-3.5 4.8l-4.5 3.8l-4.5 -3.8l-3.5 -4.8l3.5 -4.8zM1110.4 667.6l4.5 3.8l3.5 4.8l-3.5 4.8l-4.5 3.8l-4.5 -3.8l-3.5 -4.8l3.5 -4.8zM1280.0 662.9l4.5 3.8l3.5 4.8l-3.5 4.8l-4.5 3.8l-4.5 -3.8l-3.5 -4.8l3.5 -4.8zM1297.9 673.0l4.5 3.8l3.5 4.8l-3.5 4.8l-4.5 3.8l-4.5 -3.8l-3.5 -4.8l3.5 -4.8zM1385.8 678.6l3.6 3l2.8 3.9l-2.8 3.9l-3.6 3l-3.6 -3l-2.8 -3.9l2.8 -3.9zM1174.9 676.9l4.5 3.8l3.5 4.8l-3.5 4.8l-4.5 3.8l-4.5 -3.8l-3.5 -4.8l3.5 -4.8zM1167.2 693.2l4.5 3.8l3.5 4.8l-3.5 4.8l-4.5 3.8l-4.5 -3.8l-3.5 -4.8l3.5 -4.8zM1182.7 693.2l4.5 3.8l3.5 4.8l-3.5 4.8l-4.5 3.8l-4.5 -3.8l-3.5 -4.8l3.5 -4.8zM1138.4 693.2l4.5 3.8l3.5 4.8l-3.5 4.8l-4.5 3.8l-4.5 -3.8l-3.5 -4.8l3.5 -4.8zM1245.0 698.7l4.5 3.8l3.5 4.8l-3.5 4.8l-4.5 3.8l-4.5 -3.8l-3.5 -4.8l3.5 -4.8zM1257.4 698.7l4.5 3.8l3.5 4.8l-3.5 4.8l-4.5 3.8l-4.5 -3.8l-3.5 -4.8l3.5 -4.8zM1295.6 701.8l4.5 3.8l3.5 4.8l-3.5 4.8l-4.5 3.8l-4.5 -3.8l-3.5 -4.8l3.5 -4.8zM1223.2 713.5l4.5 3.8l3.5 4.8l-3.5 4.8l-4.5 3.8l-4.5 -3.8l-3.5 -4.8l3.5 -4.8zM1243.4 718.9l4.5 3.8l3.5 4.8l-3.5 4.8l-4.5 3.8l-4.5 -3.8l-3.5 -4.8l3.5 -4.8zM1122.0 718.9l4.5 3.8l3.5 4.8l-3.5 4.8l-4.5 3.8l-4.5 -3.8l-3.5 -4.8l3.5 -4.8zM1133.7 718.9l4.5 3.8l3.5 4.8l-3.5 4.8l-4.5 3.8l-4.5 -3.8l-3.5 -4.8l3.5 -4.8zM1176.5 766.6l3.6 3l2.8 3.9l-2.8 3.9l-3.6 3l-3.6 -3l-2.8 -3.9l2.8 -3.9zM1327.5 772.0l3.6 3l2.8 3.9l-2.8 3.9l-3.6 3l-3.6 -3l-2.8 -3.9l2.8 -3.9zM1374.2 734.0l2.7 2.3l2.1 2.9l-2.1 2.9l-2.7 2.3l-2.7 -2.3l-2.1 -2.9l2.1 -2.9zM1473.2 575.0l4.5 3.8l3.5 4.8l-3.5 4.8l-4.5 3.8l-4.5 -3.8l-3.5 -4.8l3.5 -4.8zM1525.3 576.0l3.1 2.6l2.5 3.4l-2.5 3.4l-3.1 2.6l-3.1 -2.6l-2.5 -3.4l2.5 -3.4zM1505.8 582.7l4.5 3.8l3.5 4.8l-3.5 4.8l-4.5 3.8l-4.5 -3.8l-3.5 -4.8l3.5 -4.8zM1499.6 592.1l4.5 3.8l3.5 4.8l-3.5 4.8l-4.5 3.8l-4.5 -3.8l-3.5 -4.8l3.5 -4.8zM1527.6 599.9l4.5 3.8l3.5 4.8l-3.5 4.8l-4.5 3.8l-4.5 -3.8l-3.5 -4.8l3.5 -4.8zM1547.9 599.9l4.5 3.8l3.5 4.8l-3.5 4.8l-4.5 3.8l-4.5 -3.8l-3.5 -4.8l3.5 -4.8zM1541.6 606.9l4.5 3.8l3.5 4.8l-3.5 4.8l-4.5 3.8l-4.5 -3.8l-3.5 -4.8l3.5 -4.8zM1514.4 616.2l4.5 3.8l3.5 4.8l-3.5 4.8l-4.5 3.8l-4.5 -3.8l-3.5 -4.8l3.5 -4.8zM1579.0 588.2l4.5 3.8l3.5 4.8l-3.5 4.8l-4.5 3.8l-4.5 -3.8l-3.5 -4.8l3.5 -4.8zM1584.4 596.8l4.5 3.8l3.5 4.8l-3.5 4.8l-4.5 3.8l-4.5 -3.8l-3.5 -4.8l3.5 -4.8zM1579.0 604.5l4.5 3.8l3.5 4.8l-3.5 4.8l-4.5 3.8l-4.5 -3.8l-3.5 -4.8l3.5 -4.8zM1615.6 595.2l4.5 3.8l3.5 4.8l-3.5 4.8l-4.5 3.8l-4.5 -3.8l-3.5 -4.8l3.5 -4.8zM1610.1 602.2l4.5 3.8l3.5 4.8l-3.5 4.8l-4.5 3.8l-4.5 -3.8l-3.5 -4.8l3.5 -4.8zM1604.7 609.2l4.5 3.8l3.5 4.8l-3.5 4.8l-4.5 3.8l-4.5 -3.8l-3.5 -4.8l3.5 -4.8zM1466.1 626.3l4.5 3.8l3.5 4.8l-3.5 4.8l-4.5 3.8l-4.5 -3.8l-3.5 -4.8l3.5 -4.8zM1410.9 647.3l4.5 3.8l3.5 4.8l-3.5 4.8l-4.5 3.8l-4.5 -3.8l-3.5 -4.8l3.5 -4.8zM1512.1 654.3l4.5 3.8l3.5 4.8l-3.5 4.8l-4.5 3.8l-4.5 -3.8l-3.5 -4.8l3.5 -4.8zM1535.4 661.3l4.5 3.8l3.5 4.8l-3.5 4.8l-4.5 3.8l-4.5 -3.8l-3.5 -4.8l3.5 -4.8zM1568.9 672.2l4.5 3.8l3.5 4.8l-3.5 4.8l-4.5 3.8l-4.5 -3.8l-3.5 -4.8l3.5 -4.8zM1532.3 723.6l4.5 3.8l3.5 4.8l-3.5 4.8l-4.5 3.8l-4.5 -3.8l-3.5 -4.8l3.5 -4.8zM1626.8 698.6l3.1 2.6l2.5 3.4l-2.5 3.4l-3.1 2.6l-3.1 -2.6l-2.5 -3.4l2.5 -3.4zM1598.4 710.1l4 3.4l3.2 4.3l-3.2 4.3l-4 3.4l-4 -3.4l-3.2 -4.3l3.2 -4.3zM1670.3 718.5l3.6 3l2.8 3.9l-2.8 3.9l-3.6 3l-3.6 -3l-2.8 -3.9l2.8 -3.9zM1037.8 801.6l2.7 2.3l2.1 2.9l-2.1 2.9l-2.7 2.3l-2.7 -2.3l-2.1 -2.9l2.1 -2.9zM1118.9 786.8l2.7 2.3l2.1 2.9l-2.1 2.9l-2.7 2.3l-2.7 -2.3l-2.1 -2.9l2.1 -2.9zM1277.7 869.9l3.6 3l2.8 3.9l-2.8 3.9l-3.6 3l-3.6 -3l-2.8 -3.9l2.8 -3.9z" fill="#0000ff"/>
<path d="M605.0 700.6l4.7 4l3.7 5l-3.7 5l-4.7 4l-4.7 -4l-3.7 -5l3.7 -5zM521.7 698.3l4.7 4l3.7 5l-3.7 5l-4.7 4l-4.7 -4l-3.7 -5l3.7 -5zM536.5 701.4l4.7 4l3.7 5l-3.7 5l-4.7 4l-4.7 -4l-3.7 -5l3.7 -5zM541.2 709.2l4.7 4l3.7 5l-3.7 5l-4.7 4l-4.7 -4l-3.7 -5l3.7 -5zM538.1 724.0l4.7 4l3.7 5l-3.7 5l-4.7 4l-4.7 -4l-3.7 -5l3.7 -5zM516.3 733.3l4.7 4l3.7 5l-3.7 5l-4.7 4l-4.7 -4l-3.7 -5l3.7 -5zM506.9 738.8l4.7 4l3.7 5l-3.7 5l-4.7 4l-4.7 -4l-3.7 -5l3.7 -5zM497.6 745.0l4.7 4l3.7 5l-3.7 5l-4.7 4l-4.7 -4l-3.7 -5l3.7 -5zM526.4 758.2l4.7 4l3.7 5l-3.7 5l-4.7 4l-4.7 -4l-3.7 -5l3.7 -5zM677.4 733.3l4.7 4l3.7 5l-3.7 5l-4.7 4l-4.7 -4l-3.7 -5l3.7 -5zM744.3 700.1l3.8 3.2l3 4l-3 4l-3.8 3.2l-3.8 -3.2l-3 -4l3 -4zM749.7 715.4l4.7 4l3.7 5l-3.7 5l-4.7 4l-4.7 -4l-3.7 -5l3.7 -5zM757.5 721.6l4.7 4l3.7 5l-3.7 5l-4.7 4l-4.7 -4l-3.7 -5l3.7 -5zM757.5 743.4l4.7 4l3.7 5l-3.7 5l-4.7 4l-4.7 -4l-3.7 -5l3.7 -5zM704.6 754.3l4.7 4l3.7 5l-3.7 5l-4.7 4l-4.7 -4l-3.7 -5l3.7 -5zM713.9 762.1l4.7 4l3.7 5l-3.7 5l-4.7 4l-4.7 -4l-3.7 -5l3.7 -5zM724.8 769.9l4.7 4l3.7 5l-3.7 5l-4.7 4l-4.7 -4l-3.7 -5l3.7 -5zM455.6 760.6l4.7 4l3.7 5l-3.7 5l-4.7 4l-4.7 -4l-3.7 -5l3.7 -5zM464.9 759.0l4.7 4l3.7 5l-3.7 5l-4.7 4l-4.7 -4l-3.7 -5l3.7 -5zM472.7 766.8l4.7 4l3.7 5l-3.7 5l-4.7 4l-4.7 -4l-3.7 -5l3.7 -5zM489.8 769.9l4.7 4l3.7 5l-3.7 5l-4.7 4l-4.7 -4l-3.7 -5l3.7 -5zM559.8 765.2l4.7 4l3.7 5l-3.7 5l-4.7 4l-4.7 -4l-3.7 -5l3.7 -5zM572.3 768.3l4.7 4l3.7 5l-3.7 5l-4.7 4l-4.7 -4l-3.7 -5l3.7 -5zM584.0 760.6l4.7 4l3.7 5l-3.7 5l-4.7 4l-4.7 -4l-3.7 -5l3.7 -5zM595.6 762.1l4.7 4l3.7 5l-3.7 5l-4.7 4l-4.7 -4l-3.7 -5l3.7 -5zM601.9 769.9l4.7 4l3.7 5l-3.7 5l-4.7 4l-4.7 -4l-3.7 -5l3.7 -5zM625.2 760.6l4.7 4l3.7 5l-3.7 5l-4.7 4l-4.7 -4l-3.7 -5l3.7 -5zM631.4 769.9l4.7 4l3.7 5l-3.7 5l-4.7 4l-4.7 -4l-3.7 -5l3.7 -5zM945.2 701.4l4.7 4l3.7 5l-3.7 5l-4.7 4l-4.7 -4l-3.7 -5l3.7 -5zM975.6 698.3l4.7 4l3.7 5l-3.7 5l-4.7 4l-4.7 -4l-3.7 -5l3.7 -5zM974.8 713.9l4.7 4l3.7 5l-3.7 5l-4.7 4l-4.7 -4l-3.7 -5l3.7 -5zM1004.4 701.4l4.7 4l3.7 5l-3.7 5l-4.7 4l-4.7 -4l-3.7 -5l3.7 -5zM1009.0 713.9l4.7 4l3.7 5l-3.7 5l-4.7 4l-4.7 -4l-3.7 -5l3.7 -5zM1078.3 706.1l4.7 4l3.7 5l-3.7 5l-4.7 4l-4.7 -4l-3.7 -5l3.7 -5zM856.5 713.1l4.7 4l3.7 5l-3.7 5l-4.7 4l-4.7 -4l-3.7 -5l3.7 -5zM874.4 713.1l4.7 4l3.7 5l-3.7 5l-4.7 4l-4.7 -4l-3.7 -5l3.7 -5zM935.9 723.2l4.7 4l3.7 5l-3.7 5l-4.7 4l-4.7 -4l-3.7 -5l3.7 -5zM946.8 729.4l4.7 4l3.7 5l-3.7 5l-4.7 4l-4.7 -4l-3.7 -5l3.7 -5zM967.0 728.6l4.7 4l3.7 5l-3.7 5l-4.7 4l-4.7 -4l-3.7 -5l3.7 -5zM840.2 729.4l4.7 4l3.7 5l-3.7 5l-4.7 4l-4.7 -4l-3.7 -5l3.7 -5zM837.8 738.8l4.7 4l3.7 5l-3.7 5l-4.7 4l-4.7 -4l-3.7 -5l3.7 -5zM848.7 745.0l4.7 4l3.7 5l-3.7 5l-4.7 4l-4.7 -4l-3.7 -5l3.7 -5zM817.6 741.9l4.7 4l3.7 5l-3.7 5l-4.7 4l-4.7 -4l-3.7 -5l3.7 -5zM797.4 754.3l4.7 4l3.7 5l-3.7 5l-4.7 4l-4.7 -4l-3.7 -5l3.7 -5zM968.6 741.9l4.7 4l3.7 5l-3.7 5l-4.7 4l-4.7 -4l-3.7 -5l3.7 -5zM1058.8 729.4l4.7 4l3.7 5l-3.7 5l-4.7 4l-4.7 -4l-3.7 -5l3.7 -5zM1063.5 749.7l4.7 4l3.7 5l-3.7 5l-4.7 4l-4.7 -4l-3.7 -5l3.7 -5zM1023.0 743.4l4.7 4l3.7 5l-3.7 5l-4.7 4l-4.7 -4l-3.7 -5l3.7 -5zM1015.3 752.8l4.7 4l3.7 5l-3.7 5l-4.7 4l-4.7 -4l-3.7 -5l3.7 -5zM1033.9 748.1l4.7 4l3.7 5l-3.7 5l-4.7 4l-4.7 -4l-3.7 -5l3.7 -5zM996.6 748.1l4.7 4l3.7 5l-3.7 5l-4.7 4l-4.7 -4l-3.7 -5l3.7 -5zM923.4 749.7l4.7 4l3.7 5l-3.7 5l-4.7 4l-4.7 -4l-3.7 -5l3.7 -5zM931.2 755.9l4.7 4l3.7 5l-3.7 5l-4.7 4l-4.7 -4l-3.7 -5l3.7 -5zM918.8 760.6l4.7 4l3.7 5l-3.7 5l-4.7 4l-4.7 -4l-3.7 -5l3.7 -5zM928.1 769.9l4.7 4l3.7 5l-3.7 5l-4.7 4l-4.7 -4l-3.7 -5l3.7 -5zM954.6 754.3l4.7 4l3.7 5l-3.7 5l-4.7 4l-4.7 -4l-3.7 -5l3.7 -5zM960.8 762.1l4.7 4l3.7 5l-3.7 5l-4.7 4l-4.7 -4l-3.7 -5l3.7 -5zM953.0 769.9l4.7 4l3.7 5l-3.7 5l-4.7 4l-4.7 -4l-3.7 -5l3.7 -5zM981.0 754.3l4.7 4l3.7 5l-3.7 5l-4.7 4l-4.7 -4l-3.7 -5l3.7 -5zM985.7 766.8l4.7 4l3.7 5l-3.7 5l-4.7 4l-4.7 -4l-3.7 -5l3.7 -5zM1002.8 769.9l4.7 4l3.7 5l-3.7 5l-4.7 4l-4.7 -4l-3.7 -5l3.7 -5zM830.0 760.6l4.7 4l3.7 5l-3.7 5l-4.7 4l-4.7 -4l-3.7 -5l3.7 -5zM842.5 765.2l4.7 4l3.7 5l-3.7 5l-4.7 4l-4.7 -4l-3.7 -5l3.7 -5zM775.6 768.3l4.7 4l3.7 5l-3.7 5l-4.7 4l-4.7 -4l-3.7 -5l3.7 -5zM859.6 769.9l4.7 4l3.7 5l-3.7 5l-4.7 4l-4.7 -4l-3.7 -5l3.7 -5zM876.7 765.2l4.7 4l3.7 5l-3.7 5l-4.7 4l-4.7 -4l-3.7 -5l3.7 -5zM884.5 771.4l4.7 4l3.7 5l-3.7 5l-4.7 4l-4.7 -4l-3.7 -5l3.7 -5zM1047.9 765.2l4.7 4l3.7 5l-3.7 5l-4.7 4l-4.7 -4l-3.7 -5l3.7 -5zM1055.7 773.0l4.7 4l3.7 5l-3.7 5l-4.7 4l-4.7 -4l-3.7 -5l3.7 -5zM1071.3 769.9l4.7 4l3.7 5l-3.7 5l-4.7 4l-4.7 -4l-3.7 -5l3.7 -5zM1032.4 773.0l4.7 4l3.7 5l-3.7 5l-4.7 4l-4.7 -4l-3.7 -5l3.7 -5zM1269.9 682.7l4.7 4l3.7 5l-3.7 5l-4.7 4l-4.7 -4l-3.7 -5l3.7 -5zM1371.1 678.1l4.7 4l3.7 5l-3.7 5l-4.7 4l-4.7 -4l-3.7 -5l3.7 -5zM1308.8 708.8l3.3 2.8l2.6 3.5l-2.6 3.5l-3.3 2.8l-3.3 -2.8l-2.6 -3.5l2.6 -3.5zM1336.8 716.2l4.7 4l3.7 5l-3.7 5l-4.7 4l-4.7 -4l-3.7 -5l3.7 -5zM1383.5 728.6l4.7 4l3.7 5l-3.7 5l-4.7 4l-4.7 -4l-3.7 -5l3.7 -5zM1089.3 723.2l4.7 4l3.7 5l-3.7 5l-4.7 4l-4.7 -4l-3.7 -5l3.7 -5zM1086.2 746.5l4.7 4l3.7 5l-3.7 5l-4.7 4l-4.7 -4l-3.7 -5l3.7 -5zM1094.0 741.9l4.7 4l3.7 5l-3.7 5l-4.7 4l-4.7 -4l-3.7 -5l3.7 -5zM1100.2 752.8l4.7 4l3.7 5l-3.7 5l-4.7 4l-4.7 -4l-3.7 -5l3.7 -5zM1120.5 751.2l4.7 4l3.7 5l-3.7 5l-4.7 4l-4.7 -4l-3.7 -5l3.7 -5zM1084.7 768.3l4.7 4l3.7 5l-3.7 5l-4.7 4l-4.7 -4l-3.7 -5l3.7 -5zM1160.9 765.2l4.7 4l3.7 5l-3.7 5l-4.7 4l-4.7 -4l-3.7 -5l3.7 -5zM1182.7 752.8l4.7 4l3.7 5l-3.7 5l-4.7 4l-4.7 -4l-3.7 -5l3.7 -5zM1188.9 768.3l4.7 4l3.7 5l-3.7 5l-4.7 4l-4.7 -4l-3.7 -5l3.7 -5zM1285.4 762.1l4.7 4l3.7 5l-3.7 5l-4.7 4l-4.7 -4l-3.7 -5l3.7 -5zM1332.1 759.0l4.7 4l3.7 5l-3.7 5l-4.7 4l-4.7 -4l-3.7 -5l3.7 -5zM1345.4 754.7l3.3 2.8l2.6 3.5l-2.6 3.5l-3.3 2.8l-3.3 -2.8l-2.6 -3.5l2.6 -3.5zM1357.0 766.8l4.7 4l3.7 5l-3.7 5l-4.7 4l-4.7 -4l-3.7 -5l3.7 -5zM1392.8 748.1l4.7 4l3.7 5l-3.7 5l-4.7 4l-4.7 -4l-3.7 -5l3.7 -5zM1394.4 762.1l4.7 4l3.7 5l-3.7 5l-4.7 4l-4.7 -4l-3.7 -5l3.7 -5zM1263.7 774.6l4.7 4l3.7 5l-3.7 5l-4.7 4l-4.7 -4l-3.7 -5l3.7 -5zM1465.4 677.3l4.7 4l3.7 5l-3.7 5l-4.7 4l-4.7 -4l-3.7 -5l3.7 -5zM1413.2 688.2l4.7 4l3.7 5l-3.7 5l-4.7 4l-4.7 -4l-3.7 -5l3.7 -5zM1428.0 682.0l4.7 4l3.7 5l-3.7 5l-4.7 4l-4.7 -4l-3.7 -5l3.7 -5zM1434.2 693.6l4.7 4l3.7 5l-3.7 5l-4.7 4l-4.7 -4l-3.7 -5l3.7 -5zM1446.7 704.5l4.7 4l3.7 5l-3.7 5l-4.7 4l-4.7 -4l-3.7 -5l3.7 -5zM1418.7 731.0l4.7 4l3.7 5l-3.7 5l-4.7 4l-4.7 -4l-3.7 -5l3.7 -5zM1435.8 733.3l4.7 4l3.7 5l-3.7 5l-4.7 4l-4.7 -4l-3.7 -5l3.7 -5zM1448.2 729.4l4.7 4l3.7 5l-3.7 5l-4.7 4l-4.7 -4l-3.7 -5l3.7 -5zM1461.5 726.3l4.7 4l3.7 5l-3.7 5l-4.7 4l-4.7 -4l-3.7 -5l3.7 -5zM1406.2 745.0l4.7 4l3.7 5l-3.7 5l-4.7 4l-4.7 -4l-3.7 -5l3.7 -5zM1440.5 751.2l4.7 4l3.7 5l-3.7 5l-4.7 4l-4.7 -4l-3.7 -5l3.7 -5zM1457.6 749.7l4.7 4l3.7 5l-3.7 5l-4.7 4l-4.7 -4l-3.7 -5l3.7 -5zM1424.9 765.2l4.7 4l3.7 5l-3.7 5l-4.7 4l-4.7 -4l-3.7 -5l3.7 -5zM1403.1 762.1l4.7 4l3.7 5l-3.7 5l-4.7 4l-4.7 -4l-3.7 -5l3.7 -5zM1466.9 760.6l4.7 4l3.7 5l-3.7 5l-4.7 4l-4.7 -4l-3.7 -5l3.7 -5zM1477.8 759.0l4.7 4l3.7 5l-3.7 5l-4.7 4l-4.7 -4l-3.7 -5l3.7 -5zM1516.7 759.0l4.7 4l3.7 5l-3.7 5l-4.7 4l-4.7 -4l-3.7 -5l3.7 -5zM1508.9 769.9l4.7 4l3.7 5l-3.7 5l-4.7 4l-4.7 -4l-3.7 -5l3.7 -5zM1558.8 754.3l4.7 4l3.7 5l-3.7 5l-4.7 4l-4.7 -4l-3.7 -5l3.7 -5zM1606.6 696.2l4.7 4l3.7 5l-3.7 5l-4.7 4l-4.7 -4l-3.7 -5l3.7 -5zM1617.9 700.7l4.7 4l3.7 5l-3.7 5l-4.7 4l-4.7 -4l-3.7 -5l3.7 -5zM1648.9 695.6l4.7 4l3.7 5l-3.7 5l-4.7 4l-4.7 -4l-3.7 -5l3.7 -5zM1662.1 695.6l4.7 4l3.7 5l-3.7 5l-4.7 4l-4.7 -4l-3.7 -5l3.7 -5zM1614.2 708.9l4.7 4l3.7 5l-3.7 5l-4.7 4l-4.7 -4l-3.7 -5l3.7 -5zM1625.5 710.1l4.7 4l3.7 5l-3.7 5l-4.7 4l-4.7 -4l-3.7 -5l3.7 -5zM1633.1 706.3l4.7 4l3.7 5l-3.7 5l-4.7 4l-4.7 -4l-3.7 -5l3.7 -5zM1642.6 700.7l4.7 4l3.7 5l-3.7 5l-4.7 4l-4.7 -4l-3.7 -5l3.7 -5zM1592.7 718.9l4.7 4l3.7 5l-3.7 5l-4.7 4l-4.7 -4l-3.7 -5l3.7 -5zM1676.0 706.3l4.7 4l3.7 5l-3.7 5l-4.7 4l-4.7 -4l-3.7 -5l3.7 -5zM1680.4 709.5l4.7 4l3.7 5l-3.7 5l-4.7 4l-4.7 -4l-3.7 -5l3.7 -5zM1625.5 716.4l4.7 4l3.7 5l-3.7 5l-4.7 4l-4.7 -4l-3.7 -5l3.7 -5zM1641.3 721.5l4.7 4l3.7 5l-3.7 5l-4.7 4l-4.7 -4l-3.7 -5l3.7 -5zM1650.8 718.9l4.7 4l3.7 5l-3.7 5l-4.7 4l-4.7 -4l-3.7 -5l3.7 -5zM1655.2 724.6l4.7 4l3.7 5l-3.7 5l-4.7 4l-4.7 -4l-3.7 -5l3.7 -5zM1609.7 729.0l4.7 4l3.7 5l-3.7 5l-4.7 4l-4.7 -4l-3.7 -5l3.7 -5zM1653.3 736.6l4.7 4l3.7 5l-3.7 5l-4.7 4l-4.7 -4l-3.7 -5l3.7 -5zM1663.4 730.9l4.7 4l3.7 5l-3.7 5l-4.7 4l-4.7 -4l-3.7 -5l3.7 -5zM1670.9 727.8l4.7 4l3.7 5l-3.7 5l-4.7 4l-4.7 -4l-3.7 -5l3.7 -5zM1679.8 722.7l4.7 4l3.7 5l-3.7 5l-4.7 4l-4.7 -4l-3.7 -5l3.7 -5zM468.8 781.4l4.7 4l3.7 5l-3.7 5l-4.7 4l-4.7 -4l-3.7 -5l3.7 -5zM495.3 790.0l4.7 4l3.7 5l-3.7 5l-4.7 4l-4.7 -4l-3.7 -5l3.7 -5zM565.3 780.7l4.7 4l3.7 5l-3.7 5l-4.7 4l-4.7 -4l-3.7 -5l3.7 -5zM578.5 780.7l4.7 4l3.7 5l-3.7 5l-4.7 4l-4.7 -4l-3.7 -5l3.7 -5zM603.4 780.7l4.7 4l3.7 5l-3.7 5l-4.7 4l-4.7 -4l-3.7 -5l3.7 -5zM620.5 779.9l4.7 4l3.7 5l-3.7 5l-4.7 4l-4.7 -4l-3.7 -5l3.7 -5zM630.7 786.9l4.7 4l3.7 5l-3.7 5l-4.7 4l-4.7 -4l-3.7 -5l3.7 -5zM647.0 783.0l4.7 4l3.7 5l-3.7 5l-4.7 4l-4.7 -4l-3.7 -5l3.7 -5zM551.3 795.5l4.7 4l3.7 5l-3.7 5l-4.7 4l-4.7 -4l-3.7 -5l3.7 -5zM512.4 806.4l4.7 4l3.7 5l-3.7 5l-4.7 4l-4.7 -4l-3.7 -5l3.7 -5zM471.1 818.8l4.7 4l3.7 5l-3.7 5l-4.7 4l-4.7 -4l-3.7 -5l3.7 -5zM571.5 815.7l4.7 4l3.7 5l-3.7 5l-4.7 4l-4.7 -4l-3.7 -5l3.7 -5zM612.8 798.6l4.7 4l3.7 5l-3.7 5l-4.7 4l-4.7 -4l-3.7 -5l3.7 -5zM620.5 814.9l4.7 4l3.7 5l-3.7 5l-4.7 4l-4.7 -4l-3.7 -5l3.7 -5zM633.8 823.1l3.3 2.8l2.6 3.5l-2.6 3.5l-3.3 2.8l-3.3 -2.8l-2.6 -3.5l2.6 -3.5zM640.8 803.2l4.7 4l3.7 5l-3.7 5l-4.7 4l-4.7 -4l-3.7 -5l3.7 -5zM653.2 804.8l4.7 4l3.7 5l-3.7 5l-4.7 4l-4.7 -4l-3.7 -5l3.7 -5zM664.1 805.6l4.7 4l3.7 5l-3.7 5l-4.7 4l-4.7 -4l-3.7 -5l3.7 -5zM673.5 796.2l4.7 4l3.7 5l-3.7 5l-4.7 4l-4.7 -4l-3.7 -5l3.7 -5zM678.1 802.5l4.7 4l3.7 5l-3.7 5l-4.7 4l-4.7 -4l-3.7 -5l3.7 -5zM690.6 790.0l4.7 4l3.7 5l-3.7 5l-4.7 4l-4.7 -4l-3.7 -5l3.7 -5zM687.5 801.7l4.7 4l3.7 5l-3.7 5l-4.7 4l-4.7 -4l-3.7 -5l3.7 -5zM713.2 790.8l4.7 4l3.7 5l-3.7 5l-4.7 4l-4.7 -4l-3.7 -5l3.7 -5zM715.5 806.4l4.7 4l3.7 5l-3.7 5l-4.7 4l-4.7 -4l-3.7 -5l3.7 -5zM735.7 815.7l4.7 4l3.7 5l-3.7 5l-4.7 4l-4.7 -4l-3.7 -5l3.7 -5zM729.5 826.6l4.7 4l3.7 5l-3.7 5l-4.7 4l-4.7 -4l-3.7 -5l3.7 -5zM543.5 832.0l4.7 4l3.7 5l-3.7 5l-4.7 4l-4.7 -4l-3.7 -5l3.7 -5zM612.8 832.8l4.7 4l3.7 5l-3.7 5l-4.7 4l-4.7 -4l-3.7 -5l3.7 -5zM481.2 841.4l4.7 4l3.7 5l-3.7 5l-4.7 4l-4.7 -4l-3.7 -5l3.7 -5zM682.0 847.6l4.7 4l3.7 5l-3.7 5l-4.7 4l-4.7 -4l-3.7 -5l3.7 -5zM682.0 856.9l4.7 4l3.7 5l-3.7 5l-4.7 4l-4.7 -4l-3.7 -5l3.7 -5zM722.5 840.6l4.7 4l3.7 5l-3.7 5l-4.7 4l-4.7 -4l-3.7 -5l3.7 -5zM735.7 853.0l4.7 4l3.7 5l-3.7 5l-4.7 4l-4.7 -4l-3.7 -5l3.7 -5zM754.4 837.5l4.7 4l3.7 5l-3.7 5l-4.7 4l-4.7 -4l-3.7 -5l3.7 -5zM696.8 870.9l4.7 4l3.7 5l-3.7 5l-4.7 4l-4.7 -4l-3.7 -5l3.7 -5zM703.0 878.7l4.7 4l3.7 5l-3.7 5l-4.7 4l-4.7 -4l-3.7 -5l3.7 -5zM746.6 924.6l4.7 4l3.7 5l-3.7 5l-4.7 4l-4.7 -4l-3.7 -5l3.7 -5zM698.4 940.2l4.7 4l3.7 5l-3.7 5l-4.7 4l-4.7 -4l-3.7 -5l3.7 -5zM785.7 785.3l4.7 4l3.7 5l-3.7 5l-4.7 4l-4.7 -4l-3.7 -5l3.7 -5zM805.1 781.4l4.7 4l3.7 5l-3.7 5l-4.7 4l-4.7 -4l-3.7 -5l3.7 -5zM821.5 783.0l4.7 4l3.7 5l-3.7 5l-4.7 4l-4.7 -4l-3.7 -5l3.7 -5zM876.0 788.5l4.7 4l3.7 5l-3.7 5l-4.7 4l-4.7 -4l-3.7 -5l3.7 -5zM935.1 786.1l4.7 4l3.7 5l-3.7 5l-4.7 4l-4.7 -4l-3.7 -5l3.7 -5zM777.1 801.7l4.7 4l3.7 5l-3.7 5l-4.7 4l-4.7 -4l-3.7 -5l3.7 -5zM810.6 811.0l4.7 4l3.7 5l-3.7 5l-4.7 4l-4.7 -4l-3.7 -5l3.7 -5zM862.7 811.0l4.7 4l3.7 5l-3.7 5l-4.7 4l-4.7 -4l-3.7 -5l3.7 -5zM771.7 828.9l4.7 4l3.7 5l-3.7 5l-4.7 4l-4.7 -4l-3.7 -5l3.7 -5zM887.6 837.5l4.7 4l3.7 5l-3.7 5l-4.7 4l-4.7 -4l-3.7 -5l3.7 -5zM903.2 841.4l4.7 4l3.7 5l-3.7 5l-4.7 4l-4.7 -4l-3.7 -5l3.7 -5zM906.3 858.5l4.7 4l3.7 5l-3.7 5l-4.7 4l-4.7 -4l-3.7 -5l3.7 -5zM914.9 866.3l4.7 4l3.7 5l-3.7 5l-4.7 4l-4.7 -4l-3.7 -5l3.7 -5zM780.2 873.3l4.7 4l3.7 5l-3.7 5l-4.7 4l-4.7 -4l-3.7 -5l3.7 -5zM790.4 891.2l4.7 4l3.7 5l-3.7 5l-4.7 4l-4.7 -4l-3.7 -5l3.7 -5zM826.1 873.3l4.7 4l3.7 5l-3.7 5l-4.7 4l-4.7 -4l-3.7 -5l3.7 -5zM852.6 895.8l4.7 4l3.7 5l-3.7 5l-4.7 4l-4.7 -4l-3.7 -5l3.7 -5zM893.9 909.1l4.7 4l3.7 5l-3.7 5l-4.7 4l-4.7 -4l-3.7 -5l3.7 -5zM766.2 964.2l3.5 3l2.8 3.8l-2.8 3.8l-3.5 3l-3.5 -3l-2.8 -3.8l2.8 -3.8zM984.1 822.7l4.7 4l3.7 5l-3.7 5l-4.7 4l-4.7 -4l-3.7 -5l3.7 -5zM993.5 824.2l4.7 4l3.7 5l-3.7 5l-4.7 4l-4.7 -4l-3.7 -5l3.7 -5zM1026.9 785.3l4.7 4l3.7 5l-3.7 5l-4.7 4l-4.7 -4l-3.7 -5l3.7 -5zM1026.1 800.9l4.7 4l3.7 5l-3.7 5l-4.7 4l-4.7 -4l-3.7 -5l3.7 -5zM1044.8 813.4l4.7 4l3.7 5l-3.7 5l-4.7 4l-4.7 -4l-3.7 -5l3.7 -5zM1051.1 787.7l4.7 4l3.7 5l-3.7 5l-4.7 4l-4.7 -4l-3.7 -5l3.7 -5zM1063.5 795.5l4.7 4l3.7 5l-3.7 5l-4.7 4l-4.7 -4l-3.7 -5l3.7 -5zM1076.0 802.5l4.7 4l3.7 5l-3.7 5l-4.7 4l-4.7 -4l-3.7 -5l3.7 -5zM1072.8 827.4l4.7 4l3.7 5l-3.7 5l-4.7 4l-4.7 -4l-3.7 -5l3.7 -5zM1069.7 779.1l4.7 4l3.7 5l-3.7 5l-4.7 4l-4.7 -4l-3.7 -5l3.7 -5zM1109.6 793.1l4.7 4l3.7 5l-3.7 5l-4.7 4l-4.7 -4l-3.7 -5l3.7 -5zM1131.4 785.3l4.7 4l3.7 5l-3.7 5l-4.7 4l-4.7 -4l-3.7 -5l3.7 -5zM1157.8 785.3l4.7 4l3.7 5l-3.7 5l-4.7 4l-4.7 -4l-3.7 -5l3.7 -5zM1150.0 794.7l4.7 4l3.7 5l-3.7 5l-4.7 4l-4.7 -4l-3.7 -5l3.7 -5zM1139.1 805.6l4.7 4l3.7 5l-3.7 5l-4.7 4l-4.7 -4l-3.7 -5l3.7 -5zM1168.7 791.6l4.7 4l3.7 5l-3.7 5l-4.7 4l-4.7 -4l-3.7 -5l3.7 -5zM1192.8 797.8l4.7 4l3.7 5l-3.7 5l-4.7 4l-4.7 -4l-3.7 -5l3.7 -5zM1264.4 780.7l4.7 4l3.7 5l-3.7 5l-4.7 4l-4.7 -4l-3.7 -5l3.7 -5zM1311.9 784.6l4.7 4l3.7 5l-3.7 5l-4.7 4l-4.7 -4l-3.7 -5l3.7 -5zM1299.5 792.3l4.7 4l3.7 5l-3.7 5l-4.7 4l-4.7 -4l-3.7 -5l3.7 -5zM1352.4 779.1l4.7 4l3.7 5l-3.7 5l-4.7 4l-4.7 -4l-3.7 -5l3.7 -5zM1364.8 798.9l3.3 2.8l2.6 3.5l-2.6 3.5l-3.3 2.8l-3.3 -2.8l-2.6 -3.5l2.6 -3.5zM1104.9 825.8l4.7 4l3.7 5l-3.7 5l-4.7 4l-4.7 -4l-3.7 -5l3.7 -5zM1164.0 821.1l4.7 4l3.7 5l-3.7 5l-4.7 4l-4.7 -4l-3.7 -5l3.7 -5zM1195.2 819.6l4.7 4l3.7 5l-3.7 5l-4.7 4l-4.7 -4l-3.7 -5l3.7 -5zM1185.8 827.4l4.7 4l3.7 5l-3.7 5l-4.7 4l-4.7 -4l-3.7 -5l3.7 -5zM1218.5 809.5l4.7 4l3.7 5l-3.7 5l-4.7 4l-4.7 -4l-3.7 -5l3.7 -5zM1234.1 819.6l4.7 4l3.7 5l-3.7 5l-4.7 4l-4.7 -4l-3.7 -5l3.7 -5zM1262.1 815.7l4.7 4l3.7 5l-3.7 5l-4.7 4l-4.7 -4l-3.7 -5l3.7 -5zM1339.9 805.6l4.7 4l3.7 5l-3.7 5l-4.7 4l-4.7 -4l-3.7 -5l3.7 -5zM1329.0 818.0l4.7 4l3.7 5l-3.7 5l-4.7 4l-4.7 -4l-3.7 -5l3.7 -5zM1371.1 824.2l4.7 4l3.7 5l-3.7 5l-4.7 4l-4.7 -4l-3.7 -5l3.7 -5zM1383.5 824.2l4.7 4l3.7 5l-3.7 5l-4.7 4l-4.7 -4l-3.7 -5l3.7 -5zM1377.3 836.7l4.7 4l3.7 5l-3.7 5l-4.7 4l-4.7 -4l-3.7 -5l3.7 -5zM1397.5 835.1l4.7 4l3.7 5l-3.7 5l-4.7 4l-4.7 -4l-3.7 -5l3.7 -5zM1207.6 836.7l4.7 4l3.7 5l-3.7 5l-4.7 4l-4.7 -4l-3.7 -5l3.7 -5zM1220.1 828.9l4.7 4l3.7 5l-3.7 5l-4.7 4l-4.7 -4l-3.7 -5l3.7 -5zM1237.2 827.4l4.7 4l3.7 5l-3.7 5l-4.7 4l-4.7 -4l-3.7 -5l3.7 -5zM1255.9 833.6l4.7 4l3.7 5l-3.7 5l-4.7 4l-4.7 -4l-3.7 -5l3.7 -5zM1243.4 844.5l4.7 4l3.7 5l-3.7 5l-4.7 4l-4.7 -4l-3.7 -5l3.7 -5zM1280.0 840.6l4.7 4l3.7 5l-3.7 5l-4.7 4l-4.7 -4l-3.7 -5l3.7 -5zM1297.9 852.3l4.7 4l3.7 5l-3.7 5l-4.7 4l-4.7 -4l-3.7 -5l3.7 -5zM1320.5 852.3l4.7 4l3.7 5l-3.7 5l-4.7 4l-4.7 -4l-3.7 -5l3.7 -5zM1316.6 863.2l4.7 4l3.7 5l-3.7 5l-4.7 4l-4.7 -4l-3.7 -5l3.7 -5zM1355.5 839.8l4.7 4l3.7 5l-3.7 5l-4.7 4l-4.7 -4l-3.7 -5l3.7 -5zM1344.6 849.2l4.7 4l3.7 5l-3.7 5l-4.7 4l-4.7 -4l-3.7 -5l3.7 -5zM1125.1 846.8l4.7 4l3.7 5l-3.7 5l-4.7 4l-4.7 -4l-3.7 -5l3.7 -5zM1115.0 853.0l4.7 4l3.7 5l-3.7 5l-4.7 4l-4.7 -4l-3.7 -5l3.7 -5zM1181.2 851.5l4.7 4l3.7 5l-3.7 5l-4.7 4l-4.7 -4l-3.7 -5l3.7 -5zM1171.1 862.4l4.7 4l3.7 5l-3.7 5l-4.7 4l-4.7 -4l-3.7 -5l3.7 -5zM1203.0 860.0l4.7 4l3.7 5l-3.7 5l-4.7 4l-4.7 -4l-3.7 -5l3.7 -5zM1201.4 867.8l4.7 4l3.7 5l-3.7 5l-4.7 4l-4.7 -4l-3.7 -5l3.7 -5zM1213.9 853.8l4.7 4l3.7 5l-3.7 5l-4.7 4l-4.7 -4l-3.7 -5l3.7 -5zM1224.7 860.0l4.7 4l3.7 5l-3.7 5l-4.7 4l-4.7 -4l-3.7 -5l3.7 -5zM1229.4 874.1l4.7 4l3.7 5l-3.7 5l-4.7 4l-4.7 -4l-3.7 -5l3.7 -5zM1243.4 863.2l4.7 4l3.7 5l-3.7 5l-4.7 4l-4.7 -4l-3.7 -5l3.7 -5zM1249.6 869.4l4.7 4l3.7 5l-3.7 5l-4.7 4l-4.7 -4l-3.7 -5l3.7 -5zM1290.1 870.9l4.7 4l3.7 5l-3.7 5l-4.7 4l-4.7 -4l-3.7 -5l3.7 -5zM1294.0 875.6l4.7 4l3.7 5l-3.7 5l-4.7 4l-4.7 -4l-3.7 -5l3.7 -5zM1254.3 895.8l4.7 4l3.7 5l-3.7 5l-4.7 4l-4.7 -4l-3.7 -5l3.7 -5zM1177.3 903.6l4.7 4l3.7 5l-3.7 5l-4.7 4l-4.7 -4l-3.7 -5l3.7 -5zM1115.0 913.7l4.7 4l3.7 5l-3.7 5l-4.7 4l-4.7 -4l-3.7 -5l3.7 -5zM1269.9 913.0l4.7 4l3.7 5l-3.7 5l-4.7 4l-4.7 -4l-3.7 -5l3.7 -5zM1282.3 908.3l4.7 4l3.7 5l-3.7 5l-4.7 4l-4.7 -4l-3.7 -5l3.7 -5zM1296.3 916.1l4.7 4l3.7 5l-3.7 5l-4.7 4l-4.7 -4l-3.7 -5l3.7 -5zM1360.9 897.4l4.7 4l3.7 5l-3.7 5l-4.7 4l-4.7 -4l-3.7 -5l3.7 -5zM1369.5 905.2l4.7 4l3.7 5l-3.7 5l-4.7 4l-4.7 -4l-3.7 -5l3.7 -5zM1305.7 950.3l4.7 4l3.7 5l-3.7 5l-4.7 4l-4.7 -4l-3.7 -5l3.7 -5zM1123.6 976.4l3.3 2.8l2.6 3.5l-2.6 3.5l-3.3 2.8l-3.3 -2.8l-2.6 -3.5l2.6 -3.5zM1452.9 780.1l3.8 3.2l3 4l-3 4l-3.8 3.2l-3.8 -3.2l-3 -4l3 -4zM1560.3 779.9l4.7 4l3.7 5l-3.7 5l-4.7 4l-4.7 -4l-3.7 -5l3.7 -5zM1551.8 787.7l4.7 4l3.7 5l-3.7 5l-4.7 4l-4.7 -4l-3.7 -5l3.7 -5zM1617.9 780.1l3.8 3.2l3 4l-3 4l-3.8 3.2l-3.8 -3.2l-3 -4l3 -4zM1499.6 792.3l4.7 4l3.7 5l-3.7 5l-4.7 4l-4.7 -4l-3.7 -5l3.7 -5zM1487.2 800.9l4.7 4l3.7 5l-3.7 5l-4.7 4l-4.7 -4l-3.7 -5l3.7 -5zM1479.4 809.5l4.7 4l3.7 5l-3.7 5l-4.7 4l-4.7 -4l-3.7 -5l3.7 -5zM1492.6 817.2l4.7 4l3.7 5l-3.7 5l-4.7 4l-4.7 -4l-3.7 -5l3.7 -5zM1512.1 804.0l4.7 4l3.7 5l-3.7 5l-4.7 4l-4.7 -4l-3.7 -5l3.7 -5zM1543.2 800.1l4.7 4l3.7 5l-3.7 5l-4.7 4l-4.7 -4l-3.7 -5l3.7 -5zM1544.7 808.7l4.7 4l3.7 5l-3.7 5l-4.7 4l-4.7 -4l-3.7 -5l3.7 -5zM1546.3 818.0l4.7 4l3.7 5l-3.7 5l-4.7 4l-4.7 -4l-3.7 -5l3.7 -5zM1535.4 805.6l4.7 4l3.7 5l-3.7 5l-4.7 4l-4.7 -4l-3.7 -5l3.7 -5zM1597.7 788.5l4.7 4l3.7 5l-3.7 5l-4.7 4l-4.7 -4l-3.7 -5l3.7 -5zM1580.5 796.2l4.7 4l3.7 5l-3.7 5l-4.7 4l-4.7 -4l-3.7 -5l3.7 -5zM1568.1 800.9l4.7 4l3.7 5l-3.7 5l-4.7 4l-4.7 -4l-3.7 -5l3.7 -5zM1603.9 794.7l4.7 4l3.7 5l-3.7 5l-4.7 4l-4.7 -4l-3.7 -5l3.7 -5zM1582.1 804.0l4.7 4l3.7 5l-3.7 5l-4.7 4l-4.7 -4l-3.7 -5l3.7 -5zM1672.4 806.4l4.7 4l3.7 5l-3.7 5l-4.7 4l-4.7 -4l-3.7 -5l3.7 -5zM1413.2 820.4l4.7 4l3.7 5l-3.7 5l-4.7 4l-4.7 -4l-3.7 -5l3.7 -5zM1405.4 849.2l4.7 4l3.7 5l-3.7 5l-4.7 4l-4.7 -4l-3.7 -5l3.7 -5zM1605.4 821.1l4.7 4l3.7 5l-3.7 5l-4.7 4l-4.7 -4l-3.7 -5l3.7 -5zM1522.2 837.5l4.7 4l3.7 5l-3.7 5l-4.7 4l-4.7 -4l-3.7 -5l3.7 -5zM1580.5 831.3l4.7 4l3.7 5l-3.7 5l-4.7 4l-4.7 -4l-3.7 -5l3.7 -5zM1589.9 832.0l4.7 4l3.7 5l-3.7 5l-4.7 4l-4.7 -4l-3.7 -5l3.7 -5zM1571.2 833.6l4.7 4l3.7 5l-3.7 5l-4.7 4l-4.7 -4l-3.7 -5l3.7 -5zM1563.4 846.0l4.7 4l3.7 5l-3.7 5l-4.7 4l-4.7 -4l-3.7 -5l3.7 -5zM1505.8 863.2l4.7 4l3.7 5l-3.7 5l-4.7 4l-4.7 -4l-3.7 -5l3.7 -5zM1499.6 870.9l4.7 4l3.7 5l-3.7 5l-4.7 4l-4.7 -4l-3.7 -5l3.7 -5zM1530.7 856.9l4.7 4l3.7 5l-3.7 5l-4.7 4l-4.7 -4l-3.7 -5l3.7 -5zM1532.3 864.7l4.7 4l3.7 5l-3.7 5l-4.7 4l-4.7 -4l-3.7 -5l3.7 -5zM1476.3 873.3l4.7 4l3.7 5l-3.7 5l-4.7 4l-4.7 -4l-3.7 -5l3.7 -5zM1573.5 891.2l4.7 4l3.7 5l-3.7 5l-4.7 4l-4.7 -4l-3.7 -5l3.7 -5zM1565.0 894.5l3.8 3.2l3 4l-3 4l-3.8 3.2l-3.8 -3.2l-3 -4l3 -4zM1484.0 908.3l4.7 4l3.7 5l-3.7 5l-4.7 4l-4.7 -4l-3.7 -5l3.7 -5zM1494.9 924.6l4.7 4l3.7 5l-3.7 5l-4.7 4l-4.7 -4l-3.7 -5l3.7 -5zM1597.7 924.6l4.7 4l3.7 5l-3.7 5l-4.7 4l-4.7 -4l-3.7 -5l3.7 -5zM1628.8 919.6l3.3 2.8l2.6 3.5l-2.6 3.5l-3.3 2.8l-3.3 -2.8l-2.6 -3.5l2.6 -3.5zM1275.3 1004.8l4.7 4l3.7 5l-3.7 5l-4.7 4l-4.7 -4l-3.7 -5l3.7 -5z" fill="#ff0000"/>
<rect x="311.2" y="136.0" width="1437.8" height="1059.8" fill="none" stroke="#1c1c1c" stroke-width="5.0"/>
<path d="M450.0 136.0V159.0M450.0 1195.8V1177.3M795.0 136.0V159.0M795.0 1195.8V1177.3M1135.8 136.0V159.0M1135.8 1195.8V1177.3M1481.2 136.0V159.0M1481.2 1195.8V1177.3M311.2 959.3H329.7M1749.0 959.3H1730.5M311.2 722.6H329.7M1749.0 722.6H1730.5M311.2 485.9H329.7M1749.0 485.9H1730.5M311.2 249.2H329.7M1749.0 249.2H1730.5" stroke="#111" stroke-width="4.8" fill="none"/>
<path d="M625.4 136.0V149.0M625.4 1195.8V1186.3M965.4 136.0V149.0M965.4 1195.8V1186.3M1311.2 136.0V149.0M1311.2 1195.8V1186.3M1651.2 136.0V149.0M1651.2 1195.8V1186.3M311.2 1124.7H320.7M1749.0 1124.7H1739.5M311.2 1083.1H320.7M1749.0 1083.1H1739.5M311.2 1053.5H320.7M1749.0 1053.5H1739.5M311.2 1030.6H320.7M1749.0 1030.6H1739.5M311.2 1011.8H320.7M1749.0 1011.8H1739.5M311.2 996.0H320.7M1749.0 996.0H1739.5M311.2 982.2H320.7M1749.0 982.2H1739.5M311.2 970.1H320.7M1749.0 970.1H1739.5M311.2 888.0H320.7M1749.0 888.0H1739.5M311.2 846.4H320.7M1749.0 846.4H1739.5M311.2 816.8H320.7M1749.0 816.8H1739.5M311.2 793.9H320.7M1749.0 793.9H1739.5M311.2 775.1H320.7M1749.0 775.1H1739.5M311.2 759.3H320.7M1749.0 759.3H1739.5M311.2 745.5H320.7M1749.0 745.5H1739.5M311.2 733.4H320.7M1749.0 733.4H1739.5M311.2 651.3H320.7M1749.0 651.3H1739.5M311.2 609.7H320.7M1749.0 609.7H1739.5M311.2 580.1H320.7M1749.0 580.1H1739.5M311.2 557.2H320.7M1749.0 557.2H1739.5M311.2 538.4H320.7M1749.0 538.4H1739.5M311.2 522.6H320.7M1749.0 522.6H1739.5M311.2 508.8H320.7M1749.0 508.8H1739.5M311.2 496.7H320.7M1749.0 496.7H1739.5M311.2 414.6H320.7M1749.0 414.6H1739.5M311.2 373.0H320.7M1749.0 373.0H1739.5M311.2 343.4H320.7M1749.0 343.4H1739.5M311.2 320.5H320.7M1749.0 320.5H1739.5M311.2 301.7H320.7M1749.0 301.7H1739.5M311.2 285.9H320.7M1749.0 285.9H1739.5M311.2 272.1H320.7M1749.0 272.1H1739.5M311.2 260.0H320.7M1749.0 260.0H1739.5M311.2 177.9H320.7M1749.0 177.9H1739.5" stroke="#111" stroke-width="4.2" fill="none"/>
<text font-size="85.5" fill="#000" stroke="#000" stroke-width="3.0" stroke-linejoin="round"><tspan x="426.6" y="90.6">0</tspan></text>
<text font-size="85.5" fill="#000" stroke="#000" stroke-width="3.0" stroke-linejoin="round"><tspan x="725.7 767.0 811.4" y="90.6">100</tspan></text><rect x="728.3" y="81.6" width="16.4" height="12.0" fill="#fff"/><path d="M757.0 81.6L772.1 81.6L772.5 82.5L772.6 83.4L772.6 84.2L772.6 85.1L772.6 85.9L772.6 86.8L772.6 87.6L772.6 88.5L772.6 89.3L772.6 90.2L772.6 91.0L772.6 91.9L772.6 92.7L772.6 93.6L757.0 93.6z" fill="#fff"/>
<text font-size="85.5" fill="#000" stroke="#000" stroke-width="3.0" stroke-linejoin="round"><tspan x="1063.7 1109.6 1155.5" y="90.6">200</tspan></text>
<text font-size="85.5" fill="#000" stroke="#000" stroke-width="3.0" stroke-linejoin="round"><tspan x="1412.4 1455.2 1497.9" y="90.6">300</tspan></text>
<text font-size="85.5" fill="#000" stroke="#000" stroke-width="3.0" stroke-linejoin="round"><tspan x="330.4 370.2" y="498.1">10</tspan><tspan x="416.0" y="452.2" font-size="51" stroke-width="1.0" fill="#1a1a1a" stroke="#1a1a1a">3</tspan></text><rect x="333.0" y="489.1" width="16.4" height="12.0" fill="#fff"/><path d="M361.7 489.1L375.2 489.1L375.6 490.0L376.1 490.9L376.6 491.7L377.2 492.6L377.3 493.4L377.3 494.3L377.3 495.1L377.3 496.0L377.3 496.8L377.3 497.7L377.3 498.5L377.3 499.4L377.3 500.2L377.3 501.1L361.7 501.1z" fill="#fff"/>
<text font-size="85.5" fill="#000" stroke="#000" stroke-width="3.0" stroke-linejoin="round"><tspan x="333.5 370.2" y="739.7">10</tspan><tspan x="415.6" y="694.0" font-size="51" stroke-width="1.0" fill="#1a1a1a" stroke="#1a1a1a">2</tspan></text><rect x="336.1" y="730.7" width="16.4" height="12.0" fill="#fff"/><path d="M364.8 730.7L375.2 730.7L375.6 731.6L376.1 732.5L376.6 733.3L377.2 734.2L377.8 735.0L378.5 735.9L379.3 736.7L380.3 737.6L380.4 738.4L380.4 739.3L380.4 740.1L380.4 741.0L380.4 741.8L380.4 742.7L364.8 742.7z" fill="#fff"/>
<text font-size="85.5" fill="#000" stroke="#000" stroke-width="3.0" stroke-linejoin="round"><tspan x="333.5 370.2" y="985.7">10</tspan></text><rect x="336.1" y="976.7" width="16.4" height="12.0" fill="#fff"/><path d="M364.8 976.7L375.2 976.7L375.6 977.6L376.1 978.5L376.6 979.3L377.2 980.2L377.8 981.0L378.5 981.9L379.3 982.7L380.3 983.6L380.4 984.4L380.4 985.3L380.4 986.1L380.4 987.0L380.4 987.8L380.4 988.7L364.8 988.7z" fill="#fff"/>
<text font-size="84" fill="#000" stroke="#000" stroke-width="3.0" stroke-linejoin="round"><tspan x="824.7 875.6 891.1 960.6 1007.3" y="1304.2">Time </tspan><tspan x="1035.9" y="1304.0" stroke-width="4.0" textLength="20.14" lengthAdjust="spacingAndGlyphs">(</tspan><tspan x="1060.5 1122.4 1170.0" y="1304.2">Day</tspan><tspan x="1214.0" y="1304.0" stroke-width="4.0" textLength="20.14" lengthAdjust="spacingAndGlyphs">)</tspan></text>
<g transform="translate(85.5 0) rotate(-90)"><text font-size="86" fill="#000" stroke="#000" stroke-width="3.5" stroke-linejoin="round"><tspan x="-968.3 -897.8" y="0.0">CO</tspan><tspan x="-837.8 -810.0" y="32.7" font-size="50" stroke-width="1.8">2 </tspan><tspan x="-782.6 -716.4 -657.6 -612.9 -569.9" y="0.0">Mass </tspan><tspan x="-549.1 -492.5 -463.7 -412.6" y="0.0">Flux</tspan></text></g>
<g transform="translate(235.5 0) rotate(-90)"><text font-size="86" fill="#000" stroke="#000" stroke-width="3.5" stroke-linejoin="round"><tspan x="-842.5" y="0.0" textLength="24.34" lengthAdjust="spacingAndGlyphs">(</tspan><tspan x="-807.6 -759.8" y="0.0">g </tspan><tspan x="-737.9" y="0.0">m</tspan><tspan x="-661.3" y="-49.5" font-size="34" stroke-width="2.6">-</tspan><tspan x="-647.6 -619.8" y="-45.5" font-size="50" stroke-width="1.8">2 </tspan><tspan x="-587.6" y="0.0">d</tspan><tspan x="-535.9" y="-49.5" font-size="34" stroke-width="2.6">-</tspan><tspan x="-521.7" y="-48.0" font-size="50" stroke-width="1.8">1</tspan><tspan x="-487.8" y="0.0" textLength="24.34" lengthAdjust="spacingAndGlyphs">)</tspan></text><rect x="-520.6" y="-53.5" width="9.7" height="8.0" fill="#fff"/><rect x="-502.9" y="-53.5" width="9.2" height="8.0" fill="#fff"/></g>
<g transform="translate(1854.2 0) rotate(-90)"><text font-size="86" fill="#000" stroke="#000" stroke-width="3.5" stroke-linejoin="round"><tspan x="-1169.3 -1110.5" y="0.0">SO</tspan><tspan x="-1049.3 -1021.5" y="37.3" font-size="50" stroke-width="1.8">2 </tspan><tspan x="-993.1 -972.0 -924.0 -895.4 -838.8 -789.4 -760.3 -708.4 -682.7 -632.2 -584.4" y="0.0">Integrated </tspan><tspan x="-554.9 -486.3 -433.2 -387.3 -344.3" y="0.0">Mass </tspan><tspan x="-320.9 -266.1 -237.4 -186.9" y="0.0">Flux</tspan></text></g>
<g transform="translate(2008.0 0) rotate(-90)"><text font-size="86" fill="#000" stroke="#000" stroke-width="3.5" stroke-linejoin="round"><tspan x="-749.8" y="0.0" textLength="24.34" lengthAdjust="spacingAndGlyphs">(</tspan><tspan x="-713.4 -689.6" y="0.0">t </tspan><tspan x="-665.5" y="0.0">d</tspan><tspan x="-613.3" y="-48.0" font-size="34" stroke-width="2.6">-</tspan><tspan x="-600.1" y="-47.8" font-size="50" stroke-width="1.8">1</tspan><tspan x="-564.8" y="0.0" textLength="24.34" lengthAdjust="spacingAndGlyphs">)</tspan></text><rect x="-599.0" y="-53.3" width="9.6" height="8.0" fill="#fff"/><rect x="-581.3" y="-53.3" width="9.1" height="8.0" fill="#fff"/></g>
<path d="M469.2 313.4V333.2H762.3V230.4H743.0V313.4z" fill="#000"/><rect x="450.0" y="218.0" width="293.0" height="95.4" fill="#fff" stroke="#1c1c1c" stroke-width="5.8"/>
<path d="M1335.3 1101.1V1121.1H1623.4V1017.3H1604.2V1101.1z" fill="#000"/><rect x="1316.6" y="1005.4" width="287.6" height="95.7" fill="#fff" stroke="#1c1c1c" stroke-width="5.8"/>
<path d="M532.7 251.1l4.8 3.8l3.8 4.8l-3.8 4.8l-4.8 3.8l-4.8 -3.8l-3.8 -4.8l3.8 -4.8z" fill="#0000ff"/>
<path d="M1399.0 1038.2l4.8 3.8l3.8 4.8l-3.8 4.8l-4.8 3.8l-4.8 -3.8l-3.8 -4.8l3.8 -4.8z" fill="#ff0000"/>
<text font-size="59" font-weight="bold" fill="#000" stroke="#000" stroke-width="1.4" stroke-linejoin="round"><tspan x="620.7 661.1" y="277.1">CO</tspan><tspan x="714.7" y="303.1" font-size="40" stroke-width="1.6">2</tspan></text>
<text font-size="59" font-weight="bold" fill="#000" stroke="#000" stroke-width="1.4" stroke-linejoin="round"><tspan x="1489.1 1528.6" y="1065.0">SO</tspan><tspan x="1575.1" y="1091.0" font-size="40" stroke-width="1.6">2</tspan></text>
<path d="M437.3 264.7H380" stroke="#1a1aff" stroke-width="5.6" fill="none"/>
<path d="M354.5 262.5L361 256H385.5V273.6H371L366 267.5H354.5z" fill="#0000ff"/>
<path d="M1632 1067.3H1695" stroke="#ff1a1a" stroke-width="5.6" fill="none"/>
<path d="M1690 1058.4H1714.5L1722.3 1064.5V1070.3H1701V1075.6H1690z" fill="#ff0000"/>
</g>
</svg>
</body></html>
